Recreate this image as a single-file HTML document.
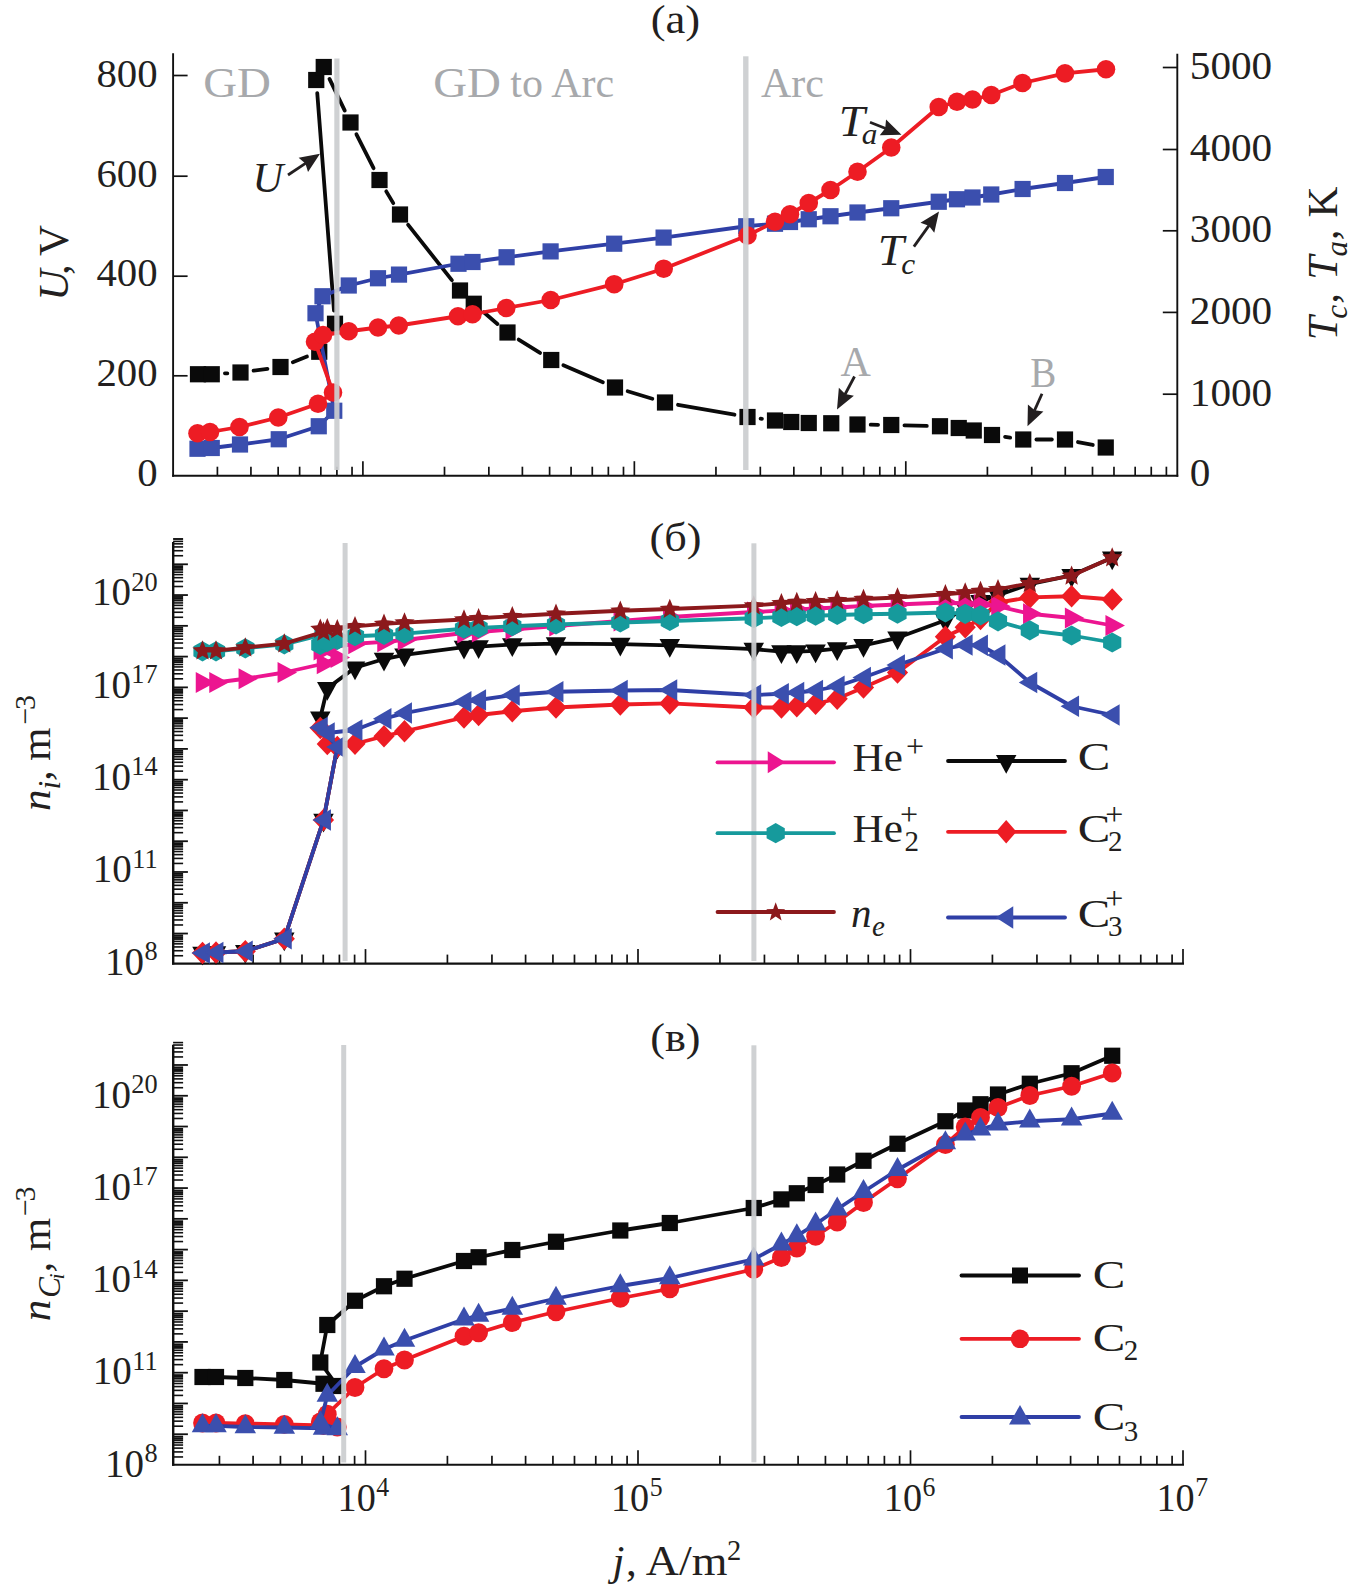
<!DOCTYPE html>
<html lang="ru"><head><meta charset="utf-8"><title>U, T, n vs j</title>
<style>html,body{margin:0;padding:0;background:#fff}svg{display:block}text{font-family:"Liberation Serif",serif}</style>
</head><body>
<svg width="1359" height="1588" viewBox="0 0 1359 1588">
<rect width="1359" height="1588" fill="#fff"/>
<g id="panel-a">
<line x1="173.1" y1="53.2" x2="173.1" y2="476.7" stroke="#111111" stroke-width="1.9"/>
<line x1="1177.3" y1="53.7" x2="1177.3" y2="476.7" stroke="#111111" stroke-width="1.9"/>
<line x1="172.15" y1="475.7" x2="1178.25" y2="475.7" stroke="#111111" stroke-width="1.9"/>
<line x1="173.1" y1="75.5" x2="187.6" y2="75.5" stroke="#111111" stroke-width="1.7"/>
<line x1="173.1" y1="176.2" x2="187.6" y2="176.2" stroke="#111111" stroke-width="1.7"/>
<line x1="173.1" y1="276.2" x2="187.6" y2="276.2" stroke="#111111" stroke-width="1.7"/>
<line x1="173.1" y1="375.8" x2="187.6" y2="375.8" stroke="#111111" stroke-width="1.7"/>
<line x1="1177.3" y1="67.5" x2="1162.8" y2="67.5" stroke="#111111" stroke-width="1.7"/>
<line x1="1177.3" y1="149.5" x2="1162.8" y2="149.5" stroke="#111111" stroke-width="1.7"/>
<line x1="1177.3" y1="230.8" x2="1162.8" y2="230.8" stroke="#111111" stroke-width="1.7"/>
<line x1="1177.3" y1="312.4" x2="1162.8" y2="312.4" stroke="#111111" stroke-width="1.7"/>
<line x1="1177.3" y1="394.2" x2="1162.8" y2="394.2" stroke="#111111" stroke-width="1.7"/>
<line x1="217.4" y1="475.7" x2="217.4" y2="466.7" stroke="#111111" stroke-width="1.7"/>
<line x1="250.93" y1="475.7" x2="250.93" y2="466.7" stroke="#111111" stroke-width="1.7"/>
<line x1="278.15" y1="475.7" x2="278.15" y2="466.7" stroke="#111111" stroke-width="1.7"/>
<line x1="299.63" y1="475.7" x2="299.63" y2="466.7" stroke="#111111" stroke-width="1.7"/>
<line x1="320.83" y1="475.7" x2="320.83" y2="466.7" stroke="#111111" stroke-width="1.7"/>
<line x1="336.9" y1="475.7" x2="336.9" y2="466.7" stroke="#111111" stroke-width="1.7"/>
<line x1="352.04" y1="475.7" x2="352.04" y2="466.7" stroke="#111111" stroke-width="1.7"/>
<line x1="362.9" y1="475.7" x2="362.9" y2="461.2" stroke="#111111" stroke-width="1.7"/>
<line x1="444.5" y1="475.7" x2="444.5" y2="466.7" stroke="#111111" stroke-width="1.7"/>
<line x1="488.85" y1="475.7" x2="488.85" y2="466.7" stroke="#111111" stroke-width="1.7"/>
<line x1="522.38" y1="475.7" x2="522.38" y2="466.7" stroke="#111111" stroke-width="1.7"/>
<line x1="549.6" y1="475.7" x2="549.6" y2="466.7" stroke="#111111" stroke-width="1.7"/>
<line x1="571.08" y1="475.7" x2="571.08" y2="466.7" stroke="#111111" stroke-width="1.7"/>
<line x1="592.28" y1="475.7" x2="592.28" y2="466.7" stroke="#111111" stroke-width="1.7"/>
<line x1="608.35" y1="475.7" x2="608.35" y2="466.7" stroke="#111111" stroke-width="1.7"/>
<line x1="623.49" y1="475.7" x2="623.49" y2="466.7" stroke="#111111" stroke-width="1.7"/>
<line x1="634.35" y1="475.7" x2="634.35" y2="461.2" stroke="#111111" stroke-width="1.7"/>
<line x1="715.95" y1="475.7" x2="715.95" y2="466.7" stroke="#111111" stroke-width="1.7"/>
<line x1="760.3" y1="475.7" x2="760.3" y2="466.7" stroke="#111111" stroke-width="1.7"/>
<line x1="793.83" y1="475.7" x2="793.83" y2="466.7" stroke="#111111" stroke-width="1.7"/>
<line x1="821.05" y1="475.7" x2="821.05" y2="466.7" stroke="#111111" stroke-width="1.7"/>
<line x1="842.53" y1="475.7" x2="842.53" y2="466.7" stroke="#111111" stroke-width="1.7"/>
<line x1="863.73" y1="475.7" x2="863.73" y2="466.7" stroke="#111111" stroke-width="1.7"/>
<line x1="879.8" y1="475.7" x2="879.8" y2="466.7" stroke="#111111" stroke-width="1.7"/>
<line x1="894.94" y1="475.7" x2="894.94" y2="466.7" stroke="#111111" stroke-width="1.7"/>
<line x1="905.8" y1="475.7" x2="905.8" y2="461.2" stroke="#111111" stroke-width="1.7"/>
<line x1="987.4" y1="475.7" x2="987.4" y2="466.7" stroke="#111111" stroke-width="1.7"/>
<line x1="1031.75" y1="475.7" x2="1031.75" y2="466.7" stroke="#111111" stroke-width="1.7"/>
<line x1="1065.28" y1="475.7" x2="1065.28" y2="466.7" stroke="#111111" stroke-width="1.7"/>
<line x1="1092.5" y1="475.7" x2="1092.5" y2="466.7" stroke="#111111" stroke-width="1.7"/>
<line x1="1113.98" y1="475.7" x2="1113.98" y2="466.7" stroke="#111111" stroke-width="1.7"/>
<line x1="1135.18" y1="475.7" x2="1135.18" y2="466.7" stroke="#111111" stroke-width="1.7"/>
<line x1="1151.25" y1="475.7" x2="1151.25" y2="466.7" stroke="#111111" stroke-width="1.7"/>
<line x1="1166.39" y1="475.7" x2="1166.39" y2="466.7" stroke="#111111" stroke-width="1.7"/>
<text transform="translate(157.6,86.6) scale(1.020,1)" font-size="40" text-anchor="end" fill="#231f20">800</text>
<text transform="translate(157.6,186.6) scale(1.020,1)" font-size="40" text-anchor="end" fill="#231f20">600</text>
<text transform="translate(157.6,286.3) scale(1.020,1)" font-size="40" text-anchor="end" fill="#231f20">400</text>
<text transform="translate(157.6,386.1) scale(1.020,1)" font-size="40" text-anchor="end" fill="#231f20">200</text>
<text transform="translate(157.6,486.1) scale(1.020,1)" font-size="40" text-anchor="end" fill="#231f20">0</text>
<text transform="translate(1189.8,78.8) scale(1.030,1)" font-size="40" text-anchor="start" fill="#231f20">5000</text>
<text transform="translate(1189.8,160.6) scale(1.030,1)" font-size="40" text-anchor="start" fill="#231f20">4000</text>
<text transform="translate(1189.8,242.2) scale(1.030,1)" font-size="40" text-anchor="start" fill="#231f20">3000</text>
<text transform="translate(1189.8,323.5) scale(1.030,1)" font-size="40" text-anchor="start" fill="#231f20">2000</text>
<text transform="translate(1189.8,405.6) scale(1.030,1)" font-size="40" text-anchor="start" fill="#231f20">1000</text>
<text transform="translate(1189.8,486.4) scale(1.030,1)" font-size="40" text-anchor="start" fill="#231f20">0</text>
<line x1="224.93" y1="373.45" x2="227.32" y2="373.3" stroke="#0a0a0a" stroke-width="3.8" stroke-linecap="round"/>
<line x1="253.58" y1="370.7" x2="267.42" y2="368.8" stroke="#0a0a0a" stroke-width="3.8" stroke-linecap="round"/>
<line x1="292.78" y1="362.17" x2="306.97" y2="356.58" stroke="#0a0a0a" stroke-width="3.8" stroke-linecap="round"/>
<line x1="325.72" y1="340.25" x2="328.53" y2="335.25" stroke="#0a0a0a" stroke-width="3.8" stroke-linecap="round"/>
<line x1="333.99" y1="310.59" x2="317.26" y2="93.16" stroke="#0a0a0a" stroke-width="3.8" stroke-linecap="round"/>
<line x1="329.48" y1="78.89" x2="344.77" y2="110.61" stroke="#0a0a0a" stroke-width="3.8" stroke-linecap="round"/>
<line x1="356.44" y1="134.29" x2="373.56" y2="168.21" stroke="#0a0a0a" stroke-width="3.8" stroke-linecap="round"/>
<line x1="386.24" y1="191.35" x2="393.26" y2="203.15" stroke="#0a0a0a" stroke-width="3.8" stroke-linecap="round"/>
<line x1="408.18" y1="224.86" x2="451.82" y2="280.14" stroke="#0a0a0a" stroke-width="3.8" stroke-linecap="round"/>
<line x1="483.8" y1="312.31" x2="497.45" y2="323.94" stroke="#0a0a0a" stroke-width="3.8" stroke-linecap="round"/>
<line x1="518.68" y1="339.52" x2="540.07" y2="352.98" stroke="#0a0a0a" stroke-width="3.8" stroke-linecap="round"/>
<line x1="563.37" y1="365.23" x2="602.88" y2="382.27" stroke="#0a0a0a" stroke-width="3.8" stroke-linecap="round"/>
<line x1="627.64" y1="391.29" x2="652.36" y2="398.71" stroke="#0a0a0a" stroke-width="3.8" stroke-linecap="round"/>
<line x1="678" y1="404.78" x2="734.5" y2="414.72" stroke="#0a0a0a" stroke-width="3.8" stroke-linecap="round"/>
<line x1="760.59" y1="418.67" x2="761.91" y2="418.83" stroke="#0a0a0a" stroke-width="3.8" stroke-linecap="round"/>
<line x1="870.7" y1="424.7" x2="878.05" y2="424.8" stroke="#0a0a0a" stroke-width="3.8" stroke-linecap="round"/>
<line x1="904.45" y1="425.34" x2="926.8" y2="425.91" stroke="#0a0a0a" stroke-width="3.8" stroke-linecap="round"/>
<line x1="1005.07" y1="436.88" x2="1010.18" y2="437.62" stroke="#0a0a0a" stroke-width="3.8" stroke-linecap="round"/>
<line x1="1036.45" y1="439.5" x2="1051.8" y2="439.5" stroke="#0a0a0a" stroke-width="3.8" stroke-linecap="round"/>
<line x1="1077.95" y1="442.04" x2="1092.8" y2="444.96" stroke="#0a0a0a" stroke-width="3.8" stroke-linecap="round"/>
<rect x="189.9" y="366.15" width="16.2" height="16.2" fill="#0a0a0a"/>
<rect x="203.65" y="366.15" width="16.2" height="16.2" fill="#0a0a0a"/>
<rect x="232.4" y="364.4" width="16.2" height="16.2" fill="#0a0a0a"/>
<rect x="272.4" y="358.9" width="16.2" height="16.2" fill="#0a0a0a"/>
<rect x="311.15" y="343.65" width="16.2" height="16.2" fill="#0a0a0a"/>
<rect x="326.9" y="315.65" width="16.2" height="16.2" fill="#0a0a0a"/>
<rect x="308.15" y="71.9" width="16.2" height="16.2" fill="#0a0a0a"/>
<rect x="315.65" y="58.9" width="16.2" height="16.2" fill="#0a0a0a"/>
<rect x="342.4" y="114.4" width="16.2" height="16.2" fill="#0a0a0a"/>
<rect x="371.4" y="171.9" width="16.2" height="16.2" fill="#0a0a0a"/>
<rect x="391.9" y="206.4" width="16.2" height="16.2" fill="#0a0a0a"/>
<rect x="451.9" y="282.4" width="16.2" height="16.2" fill="#0a0a0a"/>
<rect x="465.65" y="295.65" width="16.2" height="16.2" fill="#0a0a0a"/>
<rect x="499.4" y="324.4" width="16.2" height="16.2" fill="#0a0a0a"/>
<rect x="543.15" y="351.9" width="16.2" height="16.2" fill="#0a0a0a"/>
<rect x="606.9" y="379.4" width="16.2" height="16.2" fill="#0a0a0a"/>
<rect x="656.9" y="394.4" width="16.2" height="16.2" fill="#0a0a0a"/>
<rect x="739.4" y="408.9" width="16.2" height="16.2" fill="#0a0a0a"/>
<rect x="766.9" y="412.4" width="16.2" height="16.2" fill="#0a0a0a"/>
<rect x="783.15" y="413.9" width="16.2" height="16.2" fill="#0a0a0a"/>
<rect x="800.65" y="414.9" width="16.2" height="16.2" fill="#0a0a0a"/>
<rect x="823.15" y="415.15" width="16.2" height="16.2" fill="#0a0a0a"/>
<rect x="849.4" y="416.4" width="16.2" height="16.2" fill="#0a0a0a"/>
<rect x="883.15" y="416.9" width="16.2" height="16.2" fill="#0a0a0a"/>
<rect x="931.9" y="418.15" width="16.2" height="16.2" fill="#0a0a0a"/>
<rect x="950.65" y="419.9" width="16.2" height="16.2" fill="#0a0a0a"/>
<rect x="965.65" y="422.4" width="16.2" height="16.2" fill="#0a0a0a"/>
<rect x="983.9" y="426.9" width="16.2" height="16.2" fill="#0a0a0a"/>
<rect x="1015.15" y="431.4" width="16.2" height="16.2" fill="#0a0a0a"/>
<rect x="1056.9" y="431.4" width="16.2" height="16.2" fill="#0a0a0a"/>
<rect x="1097.65" y="439.4" width="16.2" height="16.2" fill="#0a0a0a"/>
<polyline fill="none" stroke="#2f3fa6" stroke-width="3.8" stroke-linejoin="round" stroke-linecap="round" points="197.5,448.75 211.75,448 240,444.5 278.75,439.25 318.75,426.25 334.25,410.75 315.5,313.25 322.5,296.25 348.75,285.5 378,278.25 399,274.6 458.5,263.75 472.5,262 506.6,257.25 550.6,251.4 614.2,243.7 663.6,237.6 746.25,226.25 775,223.75 790,222 808.75,219.25 830.5,216.25 857.5,212.5 891.25,208.25 938.75,201.75 957,199.25 972.5,197.5 991.25,194.5 1022.6,189 1065,183 1105.75,177"/>
<rect x="189.4" y="440.65" width="16.2" height="16.2" fill="#3b4fae"/>
<rect x="203.65" y="439.9" width="16.2" height="16.2" fill="#3b4fae"/>
<rect x="231.9" y="436.4" width="16.2" height="16.2" fill="#3b4fae"/>
<rect x="270.65" y="431.15" width="16.2" height="16.2" fill="#3b4fae"/>
<rect x="310.65" y="418.15" width="16.2" height="16.2" fill="#3b4fae"/>
<rect x="326.15" y="402.65" width="16.2" height="16.2" fill="#3b4fae"/>
<rect x="307.4" y="305.15" width="16.2" height="16.2" fill="#3b4fae"/>
<rect x="314.4" y="288.15" width="16.2" height="16.2" fill="#3b4fae"/>
<rect x="340.65" y="277.4" width="16.2" height="16.2" fill="#3b4fae"/>
<rect x="369.9" y="270.15" width="16.2" height="16.2" fill="#3b4fae"/>
<rect x="390.9" y="266.5" width="16.2" height="16.2" fill="#3b4fae"/>
<rect x="450.4" y="255.65" width="16.2" height="16.2" fill="#3b4fae"/>
<rect x="464.4" y="253.9" width="16.2" height="16.2" fill="#3b4fae"/>
<rect x="498.5" y="249.15" width="16.2" height="16.2" fill="#3b4fae"/>
<rect x="542.5" y="243.3" width="16.2" height="16.2" fill="#3b4fae"/>
<rect x="606.1" y="235.6" width="16.2" height="16.2" fill="#3b4fae"/>
<rect x="655.5" y="229.5" width="16.2" height="16.2" fill="#3b4fae"/>
<rect x="738.15" y="218.15" width="16.2" height="16.2" fill="#3b4fae"/>
<rect x="766.9" y="215.65" width="16.2" height="16.2" fill="#3b4fae"/>
<rect x="781.9" y="213.9" width="16.2" height="16.2" fill="#3b4fae"/>
<rect x="800.65" y="211.15" width="16.2" height="16.2" fill="#3b4fae"/>
<rect x="822.4" y="208.15" width="16.2" height="16.2" fill="#3b4fae"/>
<rect x="849.4" y="204.4" width="16.2" height="16.2" fill="#3b4fae"/>
<rect x="883.15" y="200.15" width="16.2" height="16.2" fill="#3b4fae"/>
<rect x="930.65" y="193.65" width="16.2" height="16.2" fill="#3b4fae"/>
<rect x="948.9" y="191.15" width="16.2" height="16.2" fill="#3b4fae"/>
<rect x="964.4" y="189.4" width="16.2" height="16.2" fill="#3b4fae"/>
<rect x="983.15" y="186.4" width="16.2" height="16.2" fill="#3b4fae"/>
<rect x="1014.5" y="180.9" width="16.2" height="16.2" fill="#3b4fae"/>
<rect x="1056.9" y="174.9" width="16.2" height="16.2" fill="#3b4fae"/>
<rect x="1097.65" y="168.9" width="16.2" height="16.2" fill="#3b4fae"/>
<polyline fill="none" stroke="#ed1c24" stroke-width="3.8" stroke-linejoin="round" stroke-linecap="round" points="197.5,433.25 210,432 239.5,427 278.25,417.5 318,403.75 333,392.5 315,341.75 323,335 348.75,331.25 378,327.5 398.75,325.5 458,316.25 472.5,314.25 506.25,308 550.75,300 614.2,284.2 663.7,268.7 747.5,235.5 775,221.75 790,214.25 808.75,203 830.5,190 857.5,171.75 891.25,147.5 938.75,107 957,101.75 972.5,99.5 991.25,95 1022.5,83 1065,73.4 1106,69.25"/>
<circle cx="197.5" cy="433.25" r="9.3" fill="#ed1c24"/>
<circle cx="210" cy="432" r="9.3" fill="#ed1c24"/>
<circle cx="239.5" cy="427" r="9.3" fill="#ed1c24"/>
<circle cx="278.25" cy="417.5" r="9.3" fill="#ed1c24"/>
<circle cx="318" cy="403.75" r="9.3" fill="#ed1c24"/>
<circle cx="333" cy="392.5" r="9.3" fill="#ed1c24"/>
<circle cx="315" cy="341.75" r="9.3" fill="#ed1c24"/>
<circle cx="323" cy="335" r="9.3" fill="#ed1c24"/>
<circle cx="348.75" cy="331.25" r="9.3" fill="#ed1c24"/>
<circle cx="378" cy="327.5" r="9.3" fill="#ed1c24"/>
<circle cx="398.75" cy="325.5" r="9.3" fill="#ed1c24"/>
<circle cx="458" cy="316.25" r="9.3" fill="#ed1c24"/>
<circle cx="472.5" cy="314.25" r="9.3" fill="#ed1c24"/>
<circle cx="506.25" cy="308" r="9.3" fill="#ed1c24"/>
<circle cx="550.75" cy="300" r="9.3" fill="#ed1c24"/>
<circle cx="614.2" cy="284.2" r="9.3" fill="#ed1c24"/>
<circle cx="663.7" cy="268.7" r="9.3" fill="#ed1c24"/>
<circle cx="747.5" cy="235.5" r="9.3" fill="#ed1c24"/>
<circle cx="775" cy="221.75" r="9.3" fill="#ed1c24"/>
<circle cx="790" cy="214.25" r="9.3" fill="#ed1c24"/>
<circle cx="808.75" cy="203" r="9.3" fill="#ed1c24"/>
<circle cx="830.5" cy="190" r="9.3" fill="#ed1c24"/>
<circle cx="857.5" cy="171.75" r="9.3" fill="#ed1c24"/>
<circle cx="891.25" cy="147.5" r="9.3" fill="#ed1c24"/>
<circle cx="938.75" cy="107" r="9.3" fill="#ed1c24"/>
<circle cx="957" cy="101.75" r="9.3" fill="#ed1c24"/>
<circle cx="972.5" cy="99.5" r="9.3" fill="#ed1c24"/>
<circle cx="991.25" cy="95" r="9.3" fill="#ed1c24"/>
<circle cx="1022.5" cy="83" r="9.3" fill="#ed1c24"/>
<circle cx="1065" cy="73.4" r="9.3" fill="#ed1c24"/>
<circle cx="1106" cy="69.25" r="9.3" fill="#ed1c24"/>
<rect x="334.3" y="58.5" width="5.2" height="411.5" fill="#cbced0" opacity="0.93"/>
<rect x="743.1" y="56.3" width="5.4" height="413.7" fill="#cbced0" opacity="0.93"/>
<text transform="translate(203.2,96.6) scale(1.118,1)" font-size="42" text-anchor="start" fill="#a7a9ac">GD</text>
<text transform="translate(433.2,96.6) scale(1.118,1)" font-size="42" text-anchor="start" fill="#a7a9ac">GD</text>
<text x="510.3" y="96.6" font-size="42" text-anchor="start" fill="#a7a9ac">to Arc</text>
<text x="761" y="96.6" font-size="42" text-anchor="start" fill="#a7a9ac">Arc</text>
<text x="840.5" y="376.4" font-size="42" text-anchor="start" fill="#a7a9ac">A</text>
<text transform="translate(1030.3,387) scale(0.940,1)" font-size="41.5" text-anchor="start" fill="#a7a9ac">B</text>
<line x1="854.5" y1="376.5" x2="844.96" y2="394.48" stroke="#231f20" stroke-width="2.8"/>
<polygon fill="#231f20" points="837,409.5 838.86,387.85 845.2,394.04 853.88,395.81"/>
<line x1="1042" y1="393.8" x2="1034.44" y2="410.68" stroke="#231f20" stroke-width="2.8"/>
<polygon fill="#231f20" points="1027.5,426.2 1027.91,404.47 1034.65,410.23 1043.43,411.42"/>
<text x="252.5" y="191.6" font-size="42.5" text-anchor="start" fill="#231f20" font-style="italic">U</text>
<line x1="288" y1="175" x2="305.83" y2="163.19" stroke="#231f20" stroke-width="2.8"/>
<polygon fill="#231f20" points="320,153.8 308.02,171.93 305.41,163.47 298.63,157.76"/>
<text transform="translate(838.8,135.9) scale(1.08,1)" font-size="43.5" font-style="italic" fill="#231f20">T<tspan font-size="29" dx="-3" dy="8.3">a</tspan></text>
<line x1="870" y1="122.3" x2="885.7" y2="128.53" stroke="#231f20" stroke-width="2.8"/>
<polygon fill="#231f20" points="901.5,134.8 879.77,135.32 885.23,128.35 886.05,119.52"/>
<text transform="translate(877.8,264.5) scale(1.08,1)" font-size="43.5" font-style="italic" fill="#231f20">T<tspan font-size="29" dx="-2.5" dy="9.3">c</tspan></text>
<line x1="913.9" y1="246.6" x2="929.11" y2="225.33" stroke="#231f20" stroke-width="2.8"/>
<polygon fill="#231f20" points="939,211.5 934.28,232.71 928.82,225.73 920.45,222.82"/>
<text transform="translate(675.4,33.3) scale(1.130,1)" font-size="39.5" text-anchor="middle" fill="#231f20">(a)</text>
<text transform="translate(67.5,297.5) rotate(-90)" font-size="43" fill="#231f20"><tspan x="-3.3" y="0" font-style="italic">U</tspan><tspan x="22.6" y="0">,</tspan><tspan x="41.6" y="0">V</tspan></text>
<text transform="translate(1337.2,337.8) rotate(-90)" font-size="43" fill="#231f20"><tspan x="-2.5" y="0" font-style="italic">T</tspan><tspan x="19" y="9.7" font-size="31" font-style="italic">c</tspan><tspan x="34" y="0" font-style="italic">,</tspan><tspan x="58" y="0" font-style="italic">T</tspan><tspan x="81.3" y="9.7" font-size="31" font-style="italic">a</tspan><tspan x="97.5" y="0" font-style="italic">,</tspan><tspan x="120.3" y="0">K</tspan></text>
</g>
<g id="panel-b">
<line x1="173.2" y1="541.99" x2="173.2" y2="964.6" stroke="#111111" stroke-width="2.4"/>
<line x1="172" y1="963.6" x2="1184" y2="963.6" stroke="#111111" stroke-width="2.1"/>
<line x1="173.1" y1="955.75" x2="183.1" y2="955.75" stroke="#111111" stroke-width="1.6"/>
<line x1="173.1" y1="950.72" x2="183.1" y2="950.72" stroke="#111111" stroke-width="1.6"/>
<line x1="173.1" y1="946.92" x2="183.1" y2="946.92" stroke="#111111" stroke-width="1.6"/>
<line x1="173.1" y1="943.84" x2="183.1" y2="943.84" stroke="#111111" stroke-width="1.6"/>
<line x1="173.1" y1="941.4" x2="183.1" y2="941.4" stroke="#111111" stroke-width="1.6"/>
<line x1="173.1" y1="939" x2="183.1" y2="939" stroke="#111111" stroke-width="1.9"/>
<line x1="173.1" y1="937.18" x2="183.1" y2="937.18" stroke="#111111" stroke-width="1.9"/>
<line x1="173.1" y1="935.46" x2="183.1" y2="935.46" stroke="#111111" stroke-width="1.9"/>
<line x1="173.1" y1="933.53" x2="187.9" y2="933.53" stroke="#111111" stroke-width="1.8"/>
<line x1="173.1" y1="924.98" x2="183.1" y2="924.98" stroke="#111111" stroke-width="1.6"/>
<line x1="173.1" y1="919.95" x2="183.1" y2="919.95" stroke="#111111" stroke-width="1.6"/>
<line x1="173.1" y1="916.15" x2="183.1" y2="916.15" stroke="#111111" stroke-width="1.6"/>
<line x1="173.1" y1="913.07" x2="183.1" y2="913.07" stroke="#111111" stroke-width="1.6"/>
<line x1="173.1" y1="910.63" x2="183.1" y2="910.63" stroke="#111111" stroke-width="1.6"/>
<line x1="173.1" y1="908.23" x2="183.1" y2="908.23" stroke="#111111" stroke-width="1.9"/>
<line x1="173.1" y1="906.41" x2="183.1" y2="906.41" stroke="#111111" stroke-width="1.9"/>
<line x1="173.1" y1="904.69" x2="183.1" y2="904.69" stroke="#111111" stroke-width="1.9"/>
<line x1="173.1" y1="902.76" x2="187.9" y2="902.76" stroke="#111111" stroke-width="1.8"/>
<line x1="173.1" y1="894.21" x2="183.1" y2="894.21" stroke="#111111" stroke-width="1.6"/>
<line x1="173.1" y1="889.18" x2="183.1" y2="889.18" stroke="#111111" stroke-width="1.6"/>
<line x1="173.1" y1="885.38" x2="183.1" y2="885.38" stroke="#111111" stroke-width="1.6"/>
<line x1="173.1" y1="882.3" x2="183.1" y2="882.3" stroke="#111111" stroke-width="1.6"/>
<line x1="173.1" y1="879.86" x2="183.1" y2="879.86" stroke="#111111" stroke-width="1.6"/>
<line x1="173.1" y1="877.46" x2="183.1" y2="877.46" stroke="#111111" stroke-width="1.9"/>
<line x1="173.1" y1="875.64" x2="183.1" y2="875.64" stroke="#111111" stroke-width="1.9"/>
<line x1="173.1" y1="873.92" x2="183.1" y2="873.92" stroke="#111111" stroke-width="1.9"/>
<line x1="173.1" y1="871.99" x2="187.9" y2="871.99" stroke="#111111" stroke-width="1.8"/>
<line x1="173.1" y1="863.44" x2="183.1" y2="863.44" stroke="#111111" stroke-width="1.6"/>
<line x1="173.1" y1="858.41" x2="183.1" y2="858.41" stroke="#111111" stroke-width="1.6"/>
<line x1="173.1" y1="854.61" x2="183.1" y2="854.61" stroke="#111111" stroke-width="1.6"/>
<line x1="173.1" y1="851.53" x2="183.1" y2="851.53" stroke="#111111" stroke-width="1.6"/>
<line x1="173.1" y1="849.09" x2="183.1" y2="849.09" stroke="#111111" stroke-width="1.6"/>
<line x1="173.1" y1="846.69" x2="183.1" y2="846.69" stroke="#111111" stroke-width="1.9"/>
<line x1="173.1" y1="844.87" x2="183.1" y2="844.87" stroke="#111111" stroke-width="1.9"/>
<line x1="173.1" y1="843.15" x2="183.1" y2="843.15" stroke="#111111" stroke-width="1.9"/>
<line x1="173.1" y1="841.22" x2="187.9" y2="841.22" stroke="#111111" stroke-width="1.8"/>
<line x1="173.1" y1="832.67" x2="183.1" y2="832.67" stroke="#111111" stroke-width="1.6"/>
<line x1="173.1" y1="827.64" x2="183.1" y2="827.64" stroke="#111111" stroke-width="1.6"/>
<line x1="173.1" y1="823.84" x2="183.1" y2="823.84" stroke="#111111" stroke-width="1.6"/>
<line x1="173.1" y1="820.76" x2="183.1" y2="820.76" stroke="#111111" stroke-width="1.6"/>
<line x1="173.1" y1="818.32" x2="183.1" y2="818.32" stroke="#111111" stroke-width="1.6"/>
<line x1="173.1" y1="815.92" x2="183.1" y2="815.92" stroke="#111111" stroke-width="1.9"/>
<line x1="173.1" y1="814.1" x2="183.1" y2="814.1" stroke="#111111" stroke-width="1.9"/>
<line x1="173.1" y1="812.38" x2="183.1" y2="812.38" stroke="#111111" stroke-width="1.9"/>
<line x1="173.1" y1="810.45" x2="187.9" y2="810.45" stroke="#111111" stroke-width="1.8"/>
<line x1="173.1" y1="801.9" x2="183.1" y2="801.9" stroke="#111111" stroke-width="1.6"/>
<line x1="173.1" y1="796.87" x2="183.1" y2="796.87" stroke="#111111" stroke-width="1.6"/>
<line x1="173.1" y1="793.07" x2="183.1" y2="793.07" stroke="#111111" stroke-width="1.6"/>
<line x1="173.1" y1="789.99" x2="183.1" y2="789.99" stroke="#111111" stroke-width="1.6"/>
<line x1="173.1" y1="787.55" x2="183.1" y2="787.55" stroke="#111111" stroke-width="1.6"/>
<line x1="173.1" y1="785.15" x2="183.1" y2="785.15" stroke="#111111" stroke-width="1.9"/>
<line x1="173.1" y1="783.33" x2="183.1" y2="783.33" stroke="#111111" stroke-width="1.9"/>
<line x1="173.1" y1="781.61" x2="183.1" y2="781.61" stroke="#111111" stroke-width="1.9"/>
<line x1="173.1" y1="779.68" x2="187.9" y2="779.68" stroke="#111111" stroke-width="1.8"/>
<line x1="173.1" y1="771.13" x2="183.1" y2="771.13" stroke="#111111" stroke-width="1.6"/>
<line x1="173.1" y1="766.1" x2="183.1" y2="766.1" stroke="#111111" stroke-width="1.6"/>
<line x1="173.1" y1="762.3" x2="183.1" y2="762.3" stroke="#111111" stroke-width="1.6"/>
<line x1="173.1" y1="759.22" x2="183.1" y2="759.22" stroke="#111111" stroke-width="1.6"/>
<line x1="173.1" y1="756.78" x2="183.1" y2="756.78" stroke="#111111" stroke-width="1.6"/>
<line x1="173.1" y1="754.38" x2="183.1" y2="754.38" stroke="#111111" stroke-width="1.9"/>
<line x1="173.1" y1="752.56" x2="183.1" y2="752.56" stroke="#111111" stroke-width="1.9"/>
<line x1="173.1" y1="750.84" x2="183.1" y2="750.84" stroke="#111111" stroke-width="1.9"/>
<line x1="173.1" y1="748.91" x2="187.9" y2="748.91" stroke="#111111" stroke-width="1.8"/>
<line x1="173.1" y1="740.36" x2="183.1" y2="740.36" stroke="#111111" stroke-width="1.6"/>
<line x1="173.1" y1="735.33" x2="183.1" y2="735.33" stroke="#111111" stroke-width="1.6"/>
<line x1="173.1" y1="731.53" x2="183.1" y2="731.53" stroke="#111111" stroke-width="1.6"/>
<line x1="173.1" y1="728.45" x2="183.1" y2="728.45" stroke="#111111" stroke-width="1.6"/>
<line x1="173.1" y1="726.01" x2="183.1" y2="726.01" stroke="#111111" stroke-width="1.6"/>
<line x1="173.1" y1="723.61" x2="183.1" y2="723.61" stroke="#111111" stroke-width="1.9"/>
<line x1="173.1" y1="721.79" x2="183.1" y2="721.79" stroke="#111111" stroke-width="1.9"/>
<line x1="173.1" y1="720.07" x2="183.1" y2="720.07" stroke="#111111" stroke-width="1.9"/>
<line x1="173.1" y1="718.14" x2="187.9" y2="718.14" stroke="#111111" stroke-width="1.8"/>
<line x1="173.1" y1="709.59" x2="183.1" y2="709.59" stroke="#111111" stroke-width="1.6"/>
<line x1="173.1" y1="704.56" x2="183.1" y2="704.56" stroke="#111111" stroke-width="1.6"/>
<line x1="173.1" y1="700.76" x2="183.1" y2="700.76" stroke="#111111" stroke-width="1.6"/>
<line x1="173.1" y1="697.68" x2="183.1" y2="697.68" stroke="#111111" stroke-width="1.6"/>
<line x1="173.1" y1="695.24" x2="183.1" y2="695.24" stroke="#111111" stroke-width="1.6"/>
<line x1="173.1" y1="692.84" x2="183.1" y2="692.84" stroke="#111111" stroke-width="1.9"/>
<line x1="173.1" y1="691.02" x2="183.1" y2="691.02" stroke="#111111" stroke-width="1.9"/>
<line x1="173.1" y1="689.3" x2="183.1" y2="689.3" stroke="#111111" stroke-width="1.9"/>
<line x1="173.1" y1="687.37" x2="187.9" y2="687.37" stroke="#111111" stroke-width="1.8"/>
<line x1="173.1" y1="678.82" x2="183.1" y2="678.82" stroke="#111111" stroke-width="1.6"/>
<line x1="173.1" y1="673.79" x2="183.1" y2="673.79" stroke="#111111" stroke-width="1.6"/>
<line x1="173.1" y1="669.99" x2="183.1" y2="669.99" stroke="#111111" stroke-width="1.6"/>
<line x1="173.1" y1="666.91" x2="183.1" y2="666.91" stroke="#111111" stroke-width="1.6"/>
<line x1="173.1" y1="664.47" x2="183.1" y2="664.47" stroke="#111111" stroke-width="1.6"/>
<line x1="173.1" y1="662.07" x2="183.1" y2="662.07" stroke="#111111" stroke-width="1.9"/>
<line x1="173.1" y1="660.25" x2="183.1" y2="660.25" stroke="#111111" stroke-width="1.9"/>
<line x1="173.1" y1="658.53" x2="183.1" y2="658.53" stroke="#111111" stroke-width="1.9"/>
<line x1="173.1" y1="656.6" x2="187.9" y2="656.6" stroke="#111111" stroke-width="1.8"/>
<line x1="173.1" y1="648.05" x2="183.1" y2="648.05" stroke="#111111" stroke-width="1.6"/>
<line x1="173.1" y1="643.02" x2="183.1" y2="643.02" stroke="#111111" stroke-width="1.6"/>
<line x1="173.1" y1="639.22" x2="183.1" y2="639.22" stroke="#111111" stroke-width="1.6"/>
<line x1="173.1" y1="636.14" x2="183.1" y2="636.14" stroke="#111111" stroke-width="1.6"/>
<line x1="173.1" y1="633.7" x2="183.1" y2="633.7" stroke="#111111" stroke-width="1.6"/>
<line x1="173.1" y1="631.3" x2="183.1" y2="631.3" stroke="#111111" stroke-width="1.9"/>
<line x1="173.1" y1="629.48" x2="183.1" y2="629.48" stroke="#111111" stroke-width="1.9"/>
<line x1="173.1" y1="627.76" x2="183.1" y2="627.76" stroke="#111111" stroke-width="1.9"/>
<line x1="173.1" y1="625.83" x2="187.9" y2="625.83" stroke="#111111" stroke-width="1.8"/>
<line x1="173.1" y1="617.28" x2="183.1" y2="617.28" stroke="#111111" stroke-width="1.6"/>
<line x1="173.1" y1="612.25" x2="183.1" y2="612.25" stroke="#111111" stroke-width="1.6"/>
<line x1="173.1" y1="608.45" x2="183.1" y2="608.45" stroke="#111111" stroke-width="1.6"/>
<line x1="173.1" y1="605.37" x2="183.1" y2="605.37" stroke="#111111" stroke-width="1.6"/>
<line x1="173.1" y1="602.93" x2="183.1" y2="602.93" stroke="#111111" stroke-width="1.6"/>
<line x1="173.1" y1="600.53" x2="183.1" y2="600.53" stroke="#111111" stroke-width="1.9"/>
<line x1="173.1" y1="598.71" x2="183.1" y2="598.71" stroke="#111111" stroke-width="1.9"/>
<line x1="173.1" y1="596.99" x2="183.1" y2="596.99" stroke="#111111" stroke-width="1.9"/>
<line x1="173.1" y1="595.06" x2="187.9" y2="595.06" stroke="#111111" stroke-width="1.8"/>
<line x1="173.1" y1="586.51" x2="183.1" y2="586.51" stroke="#111111" stroke-width="1.6"/>
<line x1="173.1" y1="581.48" x2="183.1" y2="581.48" stroke="#111111" stroke-width="1.6"/>
<line x1="173.1" y1="577.68" x2="183.1" y2="577.68" stroke="#111111" stroke-width="1.6"/>
<line x1="173.1" y1="574.6" x2="183.1" y2="574.6" stroke="#111111" stroke-width="1.6"/>
<line x1="173.1" y1="572.16" x2="183.1" y2="572.16" stroke="#111111" stroke-width="1.6"/>
<line x1="173.1" y1="569.76" x2="183.1" y2="569.76" stroke="#111111" stroke-width="1.9"/>
<line x1="173.1" y1="567.94" x2="183.1" y2="567.94" stroke="#111111" stroke-width="1.9"/>
<line x1="173.1" y1="566.22" x2="183.1" y2="566.22" stroke="#111111" stroke-width="1.9"/>
<line x1="173.1" y1="564.29" x2="187.9" y2="564.29" stroke="#111111" stroke-width="1.8"/>
<line x1="173.1" y1="555.74" x2="183.1" y2="555.74" stroke="#111111" stroke-width="1.6"/>
<line x1="173.1" y1="550.71" x2="183.1" y2="550.71" stroke="#111111" stroke-width="1.6"/>
<line x1="173.1" y1="546.91" x2="183.1" y2="546.91" stroke="#111111" stroke-width="1.6"/>
<line x1="173.1" y1="543.83" x2="183.1" y2="543.83" stroke="#111111" stroke-width="1.6"/>
<line x1="173.1" y1="541.39" x2="183.1" y2="541.39" stroke="#111111" stroke-width="1.6"/>
<line x1="173.1" y1="538.99" x2="183.1" y2="538.99" stroke="#111111" stroke-width="1.9"/>
<line x1="219.44" y1="963.6" x2="219.44" y2="954.6" stroke="#111111" stroke-width="1.7"/>
<line x1="253.09" y1="963.6" x2="253.09" y2="954.6" stroke="#111111" stroke-width="1.7"/>
<line x1="280.43" y1="963.6" x2="280.43" y2="954.6" stroke="#111111" stroke-width="1.7"/>
<line x1="301.98" y1="963.6" x2="301.98" y2="954.6" stroke="#111111" stroke-width="1.7"/>
<line x1="323.26" y1="963.6" x2="323.26" y2="954.6" stroke="#111111" stroke-width="1.7"/>
<line x1="339.39" y1="963.6" x2="339.39" y2="954.6" stroke="#111111" stroke-width="1.7"/>
<line x1="354.6" y1="963.6" x2="354.6" y2="954.6" stroke="#111111" stroke-width="1.7"/>
<line x1="365.5" y1="963.6" x2="365.5" y2="949.1" stroke="#111111" stroke-width="1.7"/>
<line x1="447.41" y1="963.6" x2="447.41" y2="954.6" stroke="#111111" stroke-width="1.7"/>
<line x1="491.94" y1="963.6" x2="491.94" y2="954.6" stroke="#111111" stroke-width="1.7"/>
<line x1="525.59" y1="963.6" x2="525.59" y2="954.6" stroke="#111111" stroke-width="1.7"/>
<line x1="552.93" y1="963.6" x2="552.93" y2="954.6" stroke="#111111" stroke-width="1.7"/>
<line x1="574.48" y1="963.6" x2="574.48" y2="954.6" stroke="#111111" stroke-width="1.7"/>
<line x1="595.76" y1="963.6" x2="595.76" y2="954.6" stroke="#111111" stroke-width="1.7"/>
<line x1="611.89" y1="963.6" x2="611.89" y2="954.6" stroke="#111111" stroke-width="1.7"/>
<line x1="627.1" y1="963.6" x2="627.1" y2="954.6" stroke="#111111" stroke-width="1.7"/>
<line x1="638" y1="963.6" x2="638" y2="949.1" stroke="#111111" stroke-width="1.7"/>
<line x1="719.91" y1="963.6" x2="719.91" y2="954.6" stroke="#111111" stroke-width="1.7"/>
<line x1="764.44" y1="963.6" x2="764.44" y2="954.6" stroke="#111111" stroke-width="1.7"/>
<line x1="798.09" y1="963.6" x2="798.09" y2="954.6" stroke="#111111" stroke-width="1.7"/>
<line x1="825.43" y1="963.6" x2="825.43" y2="954.6" stroke="#111111" stroke-width="1.7"/>
<line x1="846.98" y1="963.6" x2="846.98" y2="954.6" stroke="#111111" stroke-width="1.7"/>
<line x1="868.26" y1="963.6" x2="868.26" y2="954.6" stroke="#111111" stroke-width="1.7"/>
<line x1="884.39" y1="963.6" x2="884.39" y2="954.6" stroke="#111111" stroke-width="1.7"/>
<line x1="899.6" y1="963.6" x2="899.6" y2="954.6" stroke="#111111" stroke-width="1.7"/>
<line x1="910.5" y1="963.6" x2="910.5" y2="949.1" stroke="#111111" stroke-width="1.7"/>
<line x1="992.41" y1="963.6" x2="992.41" y2="954.6" stroke="#111111" stroke-width="1.7"/>
<line x1="1036.94" y1="963.6" x2="1036.94" y2="954.6" stroke="#111111" stroke-width="1.7"/>
<line x1="1070.59" y1="963.6" x2="1070.59" y2="954.6" stroke="#111111" stroke-width="1.7"/>
<line x1="1097.93" y1="963.6" x2="1097.93" y2="954.6" stroke="#111111" stroke-width="1.7"/>
<line x1="1119.48" y1="963.6" x2="1119.48" y2="954.6" stroke="#111111" stroke-width="1.7"/>
<line x1="1140.76" y1="963.6" x2="1140.76" y2="954.6" stroke="#111111" stroke-width="1.7"/>
<line x1="1156.89" y1="963.6" x2="1156.89" y2="954.6" stroke="#111111" stroke-width="1.7"/>
<line x1="1172.1" y1="963.6" x2="1172.1" y2="954.6" stroke="#111111" stroke-width="1.7"/>
<line x1="1183" y1="963.6" x2="1183" y2="949.1" stroke="#111111" stroke-width="1.7"/>
<text transform="translate(157.6,605.36) scale(0.975,1)" font-size="40" text-anchor="end" fill="#231f20">10<tspan font-size="27" dy="-14.6" dx="0.4">20</tspan></text>
<text transform="translate(157.6,697.67) scale(0.975,1)" font-size="40" text-anchor="end" fill="#231f20">10<tspan font-size="27" dy="-14.6" dx="0.4">17</tspan></text>
<text transform="translate(157.6,789.98) scale(0.975,1)" font-size="40" text-anchor="end" fill="#231f20">10<tspan font-size="27" dy="-14.6" dx="0.4">14</tspan></text>
<text transform="translate(157.6,882.29) scale(0.975,1)" font-size="40" text-anchor="end" fill="#231f20">10<tspan font-size="27" dy="-14.6" dx="0.4">11</tspan></text>
<text transform="translate(157.6,974.6) scale(0.975,1)" font-size="40" text-anchor="end" fill="#231f20">10<tspan font-size="27" dy="-14.6" dx="0.4">8</tspan></text>
<polyline fill="none" stroke="#0a0a0a" stroke-width="3.8" stroke-linejoin="round" stroke-linecap="round" points="202.5,953 216,952.5 245.3,951.25 284.3,938.75 323.5,820 337.3,747 320.3,717.8 327.3,688.3 355,667.8 384,659.05 404.5,654.8 464,647.05 478.6,646.55 512.3,644.55 556,643.55 620.3,644.05 669.8,645.3 753.75,649.05 781.4,651.55 796.8,651.55 815.6,650.8 837.2,648.55 863.5,645.3 897.5,637.8 945.4,620.3 965.2,607.8 980.5,601.3 998,595.3 1029.8,584.05 1071.6,575.3 1112.2,557.8"/>
<polygon fill="#0a0a0a" points="192.25,946.73 212.75,946.73 202.5,965.53"/>
<polygon fill="#0a0a0a" points="205.75,946.23 226.25,946.23 216,965.03"/>
<polygon fill="#0a0a0a" points="235.05,944.98 255.55,944.98 245.3,963.78"/>
<polygon fill="#0a0a0a" points="274.05,932.48 294.55,932.48 284.3,951.28"/>
<polygon fill="#0a0a0a" points="313.25,813.73 333.75,813.73 323.5,832.53"/>
<polygon fill="#0a0a0a" points="327.05,740.73 347.55,740.73 337.3,759.53"/>
<polygon fill="#0a0a0a" points="310.05,711.53 330.55,711.53 320.3,730.33"/>
<polygon fill="#0a0a0a" points="317.05,682.03 337.55,682.03 327.3,700.83"/>
<polygon fill="#0a0a0a" points="344.75,661.53 365.25,661.53 355,680.33"/>
<polygon fill="#0a0a0a" points="373.75,652.78 394.25,652.78 384,671.58"/>
<polygon fill="#0a0a0a" points="394.25,648.53 414.75,648.53 404.5,667.33"/>
<polygon fill="#0a0a0a" points="453.75,640.78 474.25,640.78 464,659.58"/>
<polygon fill="#0a0a0a" points="468.35,640.28 488.85,640.28 478.6,659.08"/>
<polygon fill="#0a0a0a" points="502.05,638.28 522.55,638.28 512.3,657.08"/>
<polygon fill="#0a0a0a" points="545.75,637.28 566.25,637.28 556,656.08"/>
<polygon fill="#0a0a0a" points="610.05,637.78 630.55,637.78 620.3,656.58"/>
<polygon fill="#0a0a0a" points="659.55,639.03 680.05,639.03 669.8,657.83"/>
<polygon fill="#0a0a0a" points="743.5,642.78 764,642.78 753.75,661.58"/>
<polygon fill="#0a0a0a" points="771.15,645.28 791.65,645.28 781.4,664.08"/>
<polygon fill="#0a0a0a" points="786.55,645.28 807.05,645.28 796.8,664.08"/>
<polygon fill="#0a0a0a" points="805.35,644.53 825.85,644.53 815.6,663.33"/>
<polygon fill="#0a0a0a" points="826.95,642.28 847.45,642.28 837.2,661.08"/>
<polygon fill="#0a0a0a" points="853.25,639.03 873.75,639.03 863.5,657.83"/>
<polygon fill="#0a0a0a" points="887.25,631.53 907.75,631.53 897.5,650.33"/>
<polygon fill="#0a0a0a" points="935.15,614.03 955.65,614.03 945.4,632.83"/>
<polygon fill="#0a0a0a" points="954.95,601.53 975.45,601.53 965.2,620.33"/>
<polygon fill="#0a0a0a" points="970.25,595.03 990.75,595.03 980.5,613.83"/>
<polygon fill="#0a0a0a" points="987.75,589.03 1008.25,589.03 998,607.83"/>
<polygon fill="#0a0a0a" points="1019.55,577.78 1040.05,577.78 1029.8,596.58"/>
<polygon fill="#0a0a0a" points="1061.35,569.03 1081.85,569.03 1071.6,587.83"/>
<polygon fill="#0a0a0a" points="1101.95,551.53 1122.45,551.53 1112.2,570.33"/>
<polyline fill="none" stroke="#ed1c24" stroke-width="3.8" stroke-linejoin="round" stroke-linecap="round" points="202.5,953 216,952.5 245.3,951.25 284.3,938.75 323.5,820 337.3,747 320.3,728 327.3,744 355,743.75 384,736.25 404.5,731.25 464,717.5 478.6,715 512.3,711.25 556,707.5 620.3,704.5 669.8,703.4 753.75,707.5 781.4,707.5 796.8,706.25 815.6,703.75 837.2,698.75 863.5,687.5 897.5,672.5 945.4,636.8 965.2,627.3 980.5,619 998,602.5 1029.8,597.4 1071.6,596.25 1112.2,599.5"/>
<polygon fill="#ed1c24" points="202.5,941.7 213.1,953 202.5,964.3 191.9,953"/>
<polygon fill="#ed1c24" points="216,941.2 226.6,952.5 216,963.8 205.4,952.5"/>
<polygon fill="#ed1c24" points="245.3,939.95 255.9,951.25 245.3,962.55 234.7,951.25"/>
<polygon fill="#ed1c24" points="284.3,927.45 294.9,938.75 284.3,950.05 273.7,938.75"/>
<polygon fill="#ed1c24" points="323.5,808.7 334.1,820 323.5,831.3 312.9,820"/>
<polygon fill="#ed1c24" points="337.3,735.7 347.9,747 337.3,758.3 326.7,747"/>
<polygon fill="#ed1c24" points="320.3,716.7 330.9,728 320.3,739.3 309.7,728"/>
<polygon fill="#ed1c24" points="327.3,732.7 337.9,744 327.3,755.3 316.7,744"/>
<polygon fill="#ed1c24" points="355,732.45 365.6,743.75 355,755.05 344.4,743.75"/>
<polygon fill="#ed1c24" points="384,724.95 394.6,736.25 384,747.55 373.4,736.25"/>
<polygon fill="#ed1c24" points="404.5,719.95 415.1,731.25 404.5,742.55 393.9,731.25"/>
<polygon fill="#ed1c24" points="464,706.2 474.6,717.5 464,728.8 453.4,717.5"/>
<polygon fill="#ed1c24" points="478.6,703.7 489.2,715 478.6,726.3 468,715"/>
<polygon fill="#ed1c24" points="512.3,699.95 522.9,711.25 512.3,722.55 501.7,711.25"/>
<polygon fill="#ed1c24" points="556,696.2 566.6,707.5 556,718.8 545.4,707.5"/>
<polygon fill="#ed1c24" points="620.3,693.2 630.9,704.5 620.3,715.8 609.7,704.5"/>
<polygon fill="#ed1c24" points="669.8,692.1 680.4,703.4 669.8,714.7 659.2,703.4"/>
<polygon fill="#ed1c24" points="753.75,696.2 764.35,707.5 753.75,718.8 743.15,707.5"/>
<polygon fill="#ed1c24" points="781.4,696.2 792,707.5 781.4,718.8 770.8,707.5"/>
<polygon fill="#ed1c24" points="796.8,694.95 807.4,706.25 796.8,717.55 786.2,706.25"/>
<polygon fill="#ed1c24" points="815.6,692.45 826.2,703.75 815.6,715.05 805,703.75"/>
<polygon fill="#ed1c24" points="837.2,687.45 847.8,698.75 837.2,710.05 826.6,698.75"/>
<polygon fill="#ed1c24" points="863.5,676.2 874.1,687.5 863.5,698.8 852.9,687.5"/>
<polygon fill="#ed1c24" points="897.5,661.2 908.1,672.5 897.5,683.8 886.9,672.5"/>
<polygon fill="#ed1c24" points="945.4,625.5 956,636.8 945.4,648.1 934.8,636.8"/>
<polygon fill="#ed1c24" points="965.2,616 975.8,627.3 965.2,638.6 954.6,627.3"/>
<polygon fill="#ed1c24" points="980.5,607.7 991.1,619 980.5,630.3 969.9,619"/>
<polygon fill="#ed1c24" points="998,591.2 1008.6,602.5 998,613.8 987.4,602.5"/>
<polygon fill="#ed1c24" points="1029.8,586.1 1040.4,597.4 1029.8,608.7 1019.2,597.4"/>
<polygon fill="#ed1c24" points="1071.6,584.95 1082.2,596.25 1071.6,607.55 1061,596.25"/>
<polygon fill="#ed1c24" points="1112.2,588.2 1122.8,599.5 1112.2,610.8 1101.6,599.5"/>
<polyline fill="none" stroke="#2f3fa6" stroke-width="3.8" stroke-linejoin="round" stroke-linecap="round" points="202.5,953 216,952.5 245.3,951.25 284.3,938.75 323.5,820 337.3,747 320.3,727.5 327.3,733 355,730 384,718.75 404.5,713.1 464,701.75 478.6,700 512.3,695 556,691.75 620.3,690.5 669.8,690 753.75,695 781.4,693.75 796.8,692.5 815.6,690.5 837.2,686.25 863.5,677.5 897.5,665 945.4,648.7 965.2,645 980.5,645.3 998,655 1029.8,682.5 1071.6,706.25 1112.2,715"/>
<polygon fill="#3b4fae" points="209.95,942.25 209.95,963.75 191.45,953"/>
<polygon fill="#3b4fae" points="223.45,941.75 223.45,963.25 204.95,952.5"/>
<polygon fill="#3b4fae" points="252.75,940.5 252.75,962 234.25,951.25"/>
<polygon fill="#3b4fae" points="291.75,928 291.75,949.5 273.25,938.75"/>
<polygon fill="#3b4fae" points="330.95,809.25 330.95,830.75 312.45,820"/>
<polygon fill="#3b4fae" points="344.75,736.25 344.75,757.75 326.25,747"/>
<polygon fill="#3b4fae" points="327.75,716.75 327.75,738.25 309.25,727.5"/>
<polygon fill="#3b4fae" points="334.75,722.25 334.75,743.75 316.25,733"/>
<polygon fill="#3b4fae" points="362.45,719.25 362.45,740.75 343.95,730"/>
<polygon fill="#3b4fae" points="391.45,708 391.45,729.5 372.95,718.75"/>
<polygon fill="#3b4fae" points="411.95,702.35 411.95,723.85 393.45,713.1"/>
<polygon fill="#3b4fae" points="471.45,691 471.45,712.5 452.95,701.75"/>
<polygon fill="#3b4fae" points="486.05,689.25 486.05,710.75 467.55,700"/>
<polygon fill="#3b4fae" points="519.75,684.25 519.75,705.75 501.25,695"/>
<polygon fill="#3b4fae" points="563.45,681 563.45,702.5 544.95,691.75"/>
<polygon fill="#3b4fae" points="627.75,679.75 627.75,701.25 609.25,690.5"/>
<polygon fill="#3b4fae" points="677.25,679.25 677.25,700.75 658.75,690"/>
<polygon fill="#3b4fae" points="761.2,684.25 761.2,705.75 742.7,695"/>
<polygon fill="#3b4fae" points="788.85,683 788.85,704.5 770.35,693.75"/>
<polygon fill="#3b4fae" points="804.25,681.75 804.25,703.25 785.75,692.5"/>
<polygon fill="#3b4fae" points="823.05,679.75 823.05,701.25 804.55,690.5"/>
<polygon fill="#3b4fae" points="844.65,675.5 844.65,697 826.15,686.25"/>
<polygon fill="#3b4fae" points="870.95,666.75 870.95,688.25 852.45,677.5"/>
<polygon fill="#3b4fae" points="904.95,654.25 904.95,675.75 886.45,665"/>
<polygon fill="#3b4fae" points="952.85,637.95 952.85,659.45 934.35,648.7"/>
<polygon fill="#3b4fae" points="972.65,634.25 972.65,655.75 954.15,645"/>
<polygon fill="#3b4fae" points="987.95,634.55 987.95,656.05 969.45,645.3"/>
<polygon fill="#3b4fae" points="1005.45,644.25 1005.45,665.75 986.95,655"/>
<polygon fill="#3b4fae" points="1037.25,671.75 1037.25,693.25 1018.75,682.5"/>
<polygon fill="#3b4fae" points="1079.05,695.5 1079.05,717 1060.55,706.25"/>
<polygon fill="#3b4fae" points="1119.65,704.25 1119.65,725.75 1101.15,715"/>
<polyline fill="none" stroke="#ec1590" stroke-width="3.8" stroke-linejoin="round" stroke-linecap="round" points="202.5,682.5 216,682.5 245.3,678.75 284.3,672.5 323.5,663.75 337.3,657.5 320.3,650 327.3,648 355,643.75 384,641.9 404.5,640 464,633 478.6,632 512.3,629.5 556,626 620.3,621 669.8,617 753.75,612 781.4,610.5 796.8,609.5 815.6,608.5 837.2,607.5 863.5,606 897.5,604.5 945.4,602.5 965.2,603.75 980.5,604.5 998,606.25 1029.8,613.75 1071.6,618 1112.2,625.5"/>
<polygon fill="#ec1590" points="195.75,672.1 195.75,692.9 215.25,682.5"/>
<polygon fill="#ec1590" points="209.25,672.1 209.25,692.9 228.75,682.5"/>
<polygon fill="#ec1590" points="238.55,668.35 238.55,689.15 258.05,678.75"/>
<polygon fill="#ec1590" points="277.55,662.1 277.55,682.9 297.05,672.5"/>
<polygon fill="#ec1590" points="316.75,653.35 316.75,674.15 336.25,663.75"/>
<polygon fill="#ec1590" points="330.55,647.1 330.55,667.9 350.05,657.5"/>
<polygon fill="#ec1590" points="313.55,639.6 313.55,660.4 333.05,650"/>
<polygon fill="#ec1590" points="320.55,637.6 320.55,658.4 340.05,648"/>
<polygon fill="#ec1590" points="348.25,633.35 348.25,654.15 367.75,643.75"/>
<polygon fill="#ec1590" points="377.25,631.5 377.25,652.3 396.75,641.9"/>
<polygon fill="#ec1590" points="397.75,629.6 397.75,650.4 417.25,640"/>
<polygon fill="#ec1590" points="457.25,622.6 457.25,643.4 476.75,633"/>
<polygon fill="#ec1590" points="471.85,621.6 471.85,642.4 491.35,632"/>
<polygon fill="#ec1590" points="505.55,619.1 505.55,639.9 525.05,629.5"/>
<polygon fill="#ec1590" points="549.25,615.6 549.25,636.4 568.75,626"/>
<polygon fill="#ec1590" points="613.55,610.6 613.55,631.4 633.05,621"/>
<polygon fill="#ec1590" points="663.05,606.6 663.05,627.4 682.55,617"/>
<polygon fill="#ec1590" points="747,601.6 747,622.4 766.5,612"/>
<polygon fill="#ec1590" points="774.65,600.1 774.65,620.9 794.15,610.5"/>
<polygon fill="#ec1590" points="790.05,599.1 790.05,619.9 809.55,609.5"/>
<polygon fill="#ec1590" points="808.85,598.1 808.85,618.9 828.35,608.5"/>
<polygon fill="#ec1590" points="830.45,597.1 830.45,617.9 849.95,607.5"/>
<polygon fill="#ec1590" points="856.75,595.6 856.75,616.4 876.25,606"/>
<polygon fill="#ec1590" points="890.75,594.1 890.75,614.9 910.25,604.5"/>
<polygon fill="#ec1590" points="938.65,592.1 938.65,612.9 958.15,602.5"/>
<polygon fill="#ec1590" points="958.45,593.35 958.45,614.15 977.95,603.75"/>
<polygon fill="#ec1590" points="973.75,594.1 973.75,614.9 993.25,604.5"/>
<polygon fill="#ec1590" points="991.25,595.85 991.25,616.65 1010.75,606.25"/>
<polygon fill="#ec1590" points="1023.05,603.35 1023.05,624.15 1042.55,613.75"/>
<polygon fill="#ec1590" points="1064.85,607.6 1064.85,628.4 1084.35,618"/>
<polygon fill="#ec1590" points="1105.45,615.1 1105.45,635.9 1124.95,625.5"/>
<polyline fill="none" stroke="#169a9c" stroke-width="3.8" stroke-linejoin="round" stroke-linecap="round" points="202.5,651.3 216,651.3 245.3,648.3 284.3,644.3 323.5,634.5 337.3,640 320.3,645 327.3,642 355,636.25 384,635 404.5,633.7 464,628.75 478.6,628 512.3,626.25 556,624.5 620.3,622.5 669.8,621 753.75,618.25 781.4,617 796.8,616.25 815.6,615.75 837.2,615 863.5,614.25 897.5,613.75 945.4,612.5 965.2,613.9 980.5,615.3 998,621.3 1029.8,630.3 1071.6,635.5 1112.2,642.5"/>
<polygon fill="#169a9c" points="202.5,641.2 193.4,646.25 193.4,656.35 202.5,661.4 211.6,656.35 211.6,646.25"/>
<polygon fill="#169a9c" points="216,641.2 206.9,646.25 206.9,656.35 216,661.4 225.1,656.35 225.1,646.25"/>
<polygon fill="#169a9c" points="245.3,638.2 236.2,643.25 236.2,653.35 245.3,658.4 254.4,653.35 254.4,643.25"/>
<polygon fill="#169a9c" points="284.3,634.2 275.2,639.25 275.2,649.35 284.3,654.4 293.4,649.35 293.4,639.25"/>
<polygon fill="#169a9c" points="323.5,624.4 314.4,629.45 314.4,639.55 323.5,644.6 332.6,639.55 332.6,629.45"/>
<polygon fill="#169a9c" points="337.3,629.9 328.2,634.95 328.2,645.05 337.3,650.1 346.4,645.05 346.4,634.95"/>
<polygon fill="#169a9c" points="320.3,634.9 311.2,639.95 311.2,650.05 320.3,655.1 329.4,650.05 329.4,639.95"/>
<polygon fill="#169a9c" points="327.3,631.9 318.2,636.95 318.2,647.05 327.3,652.1 336.4,647.05 336.4,636.95"/>
<polygon fill="#169a9c" points="355,626.15 345.9,631.2 345.9,641.3 355,646.35 364.1,641.3 364.1,631.2"/>
<polygon fill="#169a9c" points="384,624.9 374.9,629.95 374.9,640.05 384,645.1 393.1,640.05 393.1,629.95"/>
<polygon fill="#169a9c" points="404.5,623.6 395.4,628.65 395.4,638.75 404.5,643.8 413.6,638.75 413.6,628.65"/>
<polygon fill="#169a9c" points="464,618.65 454.9,623.7 454.9,633.8 464,638.85 473.1,633.8 473.1,623.7"/>
<polygon fill="#169a9c" points="478.6,617.9 469.5,622.95 469.5,633.05 478.6,638.1 487.7,633.05 487.7,622.95"/>
<polygon fill="#169a9c" points="512.3,616.15 503.2,621.2 503.2,631.3 512.3,636.35 521.4,631.3 521.4,621.2"/>
<polygon fill="#169a9c" points="556,614.4 546.9,619.45 546.9,629.55 556,634.6 565.1,629.55 565.1,619.45"/>
<polygon fill="#169a9c" points="620.3,612.4 611.2,617.45 611.2,627.55 620.3,632.6 629.4,627.55 629.4,617.45"/>
<polygon fill="#169a9c" points="669.8,610.9 660.7,615.95 660.7,626.05 669.8,631.1 678.9,626.05 678.9,615.95"/>
<polygon fill="#169a9c" points="753.75,608.15 744.65,613.2 744.65,623.3 753.75,628.35 762.85,623.3 762.85,613.2"/>
<polygon fill="#169a9c" points="781.4,606.9 772.3,611.95 772.3,622.05 781.4,627.1 790.5,622.05 790.5,611.95"/>
<polygon fill="#169a9c" points="796.8,606.15 787.7,611.2 787.7,621.3 796.8,626.35 805.9,621.3 805.9,611.2"/>
<polygon fill="#169a9c" points="815.6,605.65 806.5,610.7 806.5,620.8 815.6,625.85 824.7,620.8 824.7,610.7"/>
<polygon fill="#169a9c" points="837.2,604.9 828.1,609.95 828.1,620.05 837.2,625.1 846.3,620.05 846.3,609.95"/>
<polygon fill="#169a9c" points="863.5,604.15 854.4,609.2 854.4,619.3 863.5,624.35 872.6,619.3 872.6,609.2"/>
<polygon fill="#169a9c" points="897.5,603.65 888.4,608.7 888.4,618.8 897.5,623.85 906.6,618.8 906.6,608.7"/>
<polygon fill="#169a9c" points="945.4,602.4 936.3,607.45 936.3,617.55 945.4,622.6 954.5,617.55 954.5,607.45"/>
<polygon fill="#169a9c" points="965.2,603.8 956.1,608.85 956.1,618.95 965.2,624 974.3,618.95 974.3,608.85"/>
<polygon fill="#169a9c" points="980.5,605.2 971.4,610.25 971.4,620.35 980.5,625.4 989.6,620.35 989.6,610.25"/>
<polygon fill="#169a9c" points="998,611.2 988.9,616.25 988.9,626.35 998,631.4 1007.1,626.35 1007.1,616.25"/>
<polygon fill="#169a9c" points="1029.8,620.2 1020.7,625.25 1020.7,635.35 1029.8,640.4 1038.9,635.35 1038.9,625.25"/>
<polygon fill="#169a9c" points="1071.6,625.4 1062.5,630.45 1062.5,640.55 1071.6,645.6 1080.7,640.55 1080.7,630.45"/>
<polygon fill="#169a9c" points="1112.2,632.4 1103.1,637.45 1103.1,647.55 1112.2,652.6 1121.3,647.55 1121.3,637.45"/>
<polyline fill="none" stroke="#8c191c" stroke-width="3.8" stroke-linejoin="round" stroke-linecap="round" points="202.5,650.6 216,650.6 245.3,647.6 284.3,643.6 323.5,631.8 337.3,629.3 320.3,628.9 327.3,628.25 355,626.4 384,623.9 404.5,622.6 464,619.5 478.6,618.25 512.3,616.25 556,613.75 620.3,610.75 669.8,609 753.75,605.6 781.4,603.25 796.8,602 815.6,601.25 837.2,600.25 863.5,599 897.5,597.5 945.4,594.25 965.2,592.5 980.5,591 998,589.25 1029.8,583.25 1071.6,575.75 1112.2,557.5"/>
<polygon fill="#8c191c" points="202.5,640.3 199.68,647.02 192.42,647.62 197.93,652.38 196.27,659.48 202.5,655.7 208.73,659.48 207.07,652.38 212.58,647.62 205.32,647.02"/>
<polygon fill="#8c191c" points="216,640.3 213.18,647.02 205.92,647.62 211.43,652.38 209.77,659.48 216,655.7 222.23,659.48 220.57,652.38 226.08,647.62 218.82,647.02"/>
<polygon fill="#8c191c" points="245.3,637.3 242.48,644.02 235.22,644.62 240.73,649.38 239.07,656.48 245.3,652.7 251.53,656.48 249.87,649.38 255.38,644.62 248.12,644.02"/>
<polygon fill="#8c191c" points="284.3,633.3 281.48,640.02 274.22,640.62 279.73,645.38 278.07,652.48 284.3,648.7 290.53,652.48 288.87,645.38 294.38,640.62 287.12,640.02"/>
<polygon fill="#8c191c" points="323.5,621.5 320.68,628.22 313.42,628.82 318.93,633.58 317.27,640.68 323.5,636.9 329.73,640.68 328.07,633.58 333.58,628.82 326.32,628.22"/>
<polygon fill="#8c191c" points="337.3,619 334.48,625.72 327.22,626.32 332.73,631.08 331.07,638.18 337.3,634.4 343.53,638.18 341.87,631.08 347.38,626.32 340.12,625.72"/>
<polygon fill="#8c191c" points="320.3,618.6 317.48,625.32 310.22,625.92 315.73,630.68 314.07,637.78 320.3,634 326.53,637.78 324.87,630.68 330.38,625.92 323.12,625.32"/>
<polygon fill="#8c191c" points="327.3,617.95 324.48,624.67 317.22,625.27 322.73,630.03 321.07,637.13 327.3,633.35 333.53,637.13 331.87,630.03 337.38,625.27 330.12,624.67"/>
<polygon fill="#8c191c" points="355,616.1 352.18,622.82 344.92,623.42 350.43,628.18 348.77,635.28 355,631.5 361.23,635.28 359.57,628.18 365.08,623.42 357.82,622.82"/>
<polygon fill="#8c191c" points="384,613.6 381.18,620.32 373.92,620.92 379.43,625.68 377.77,632.78 384,629 390.23,632.78 388.57,625.68 394.08,620.92 386.82,620.32"/>
<polygon fill="#8c191c" points="404.5,612.3 401.68,619.02 394.42,619.62 399.93,624.38 398.27,631.48 404.5,627.7 410.73,631.48 409.07,624.38 414.58,619.62 407.32,619.02"/>
<polygon fill="#8c191c" points="464,609.2 461.18,615.92 453.92,616.52 459.43,621.28 457.77,628.38 464,624.6 470.23,628.38 468.57,621.28 474.08,616.52 466.82,615.92"/>
<polygon fill="#8c191c" points="478.6,607.95 475.78,614.67 468.52,615.27 474.03,620.03 472.37,627.13 478.6,623.35 484.83,627.13 483.17,620.03 488.68,615.27 481.42,614.67"/>
<polygon fill="#8c191c" points="512.3,605.95 509.48,612.67 502.22,613.27 507.73,618.03 506.07,625.13 512.3,621.35 518.53,625.13 516.87,618.03 522.38,613.27 515.12,612.67"/>
<polygon fill="#8c191c" points="556,603.45 553.18,610.17 545.92,610.77 551.43,615.53 549.77,622.63 556,618.85 562.23,622.63 560.57,615.53 566.08,610.77 558.82,610.17"/>
<polygon fill="#8c191c" points="620.3,600.45 617.48,607.17 610.22,607.77 615.73,612.53 614.07,619.63 620.3,615.85 626.53,619.63 624.87,612.53 630.38,607.77 623.12,607.17"/>
<polygon fill="#8c191c" points="669.8,598.7 666.98,605.42 659.72,606.02 665.23,610.78 663.57,617.88 669.8,614.1 676.03,617.88 674.37,610.78 679.88,606.02 672.62,605.42"/>
<polygon fill="#8c191c" points="753.75,595.3 750.93,602.02 743.67,602.62 749.18,607.38 747.52,614.48 753.75,610.7 759.98,614.48 758.32,607.38 763.83,602.62 756.57,602.02"/>
<polygon fill="#8c191c" points="781.4,592.95 778.58,599.67 771.32,600.27 776.83,605.03 775.17,612.13 781.4,608.35 787.63,612.13 785.97,605.03 791.48,600.27 784.22,599.67"/>
<polygon fill="#8c191c" points="796.8,591.7 793.98,598.42 786.72,599.02 792.23,603.78 790.57,610.88 796.8,607.1 803.03,610.88 801.37,603.78 806.88,599.02 799.62,598.42"/>
<polygon fill="#8c191c" points="815.6,590.95 812.78,597.67 805.52,598.27 811.03,603.03 809.37,610.13 815.6,606.35 821.83,610.13 820.17,603.03 825.68,598.27 818.42,597.67"/>
<polygon fill="#8c191c" points="837.2,589.95 834.38,596.67 827.12,597.27 832.63,602.03 830.97,609.13 837.2,605.35 843.43,609.13 841.77,602.03 847.28,597.27 840.02,596.67"/>
<polygon fill="#8c191c" points="863.5,588.7 860.68,595.42 853.42,596.02 858.93,600.78 857.27,607.88 863.5,604.1 869.73,607.88 868.07,600.78 873.58,596.02 866.32,595.42"/>
<polygon fill="#8c191c" points="897.5,587.2 894.68,593.92 887.42,594.52 892.93,599.28 891.27,606.38 897.5,602.6 903.73,606.38 902.07,599.28 907.58,594.52 900.32,593.92"/>
<polygon fill="#8c191c" points="945.4,583.95 942.58,590.67 935.32,591.27 940.83,596.03 939.17,603.13 945.4,599.35 951.63,603.13 949.97,596.03 955.48,591.27 948.22,590.67"/>
<polygon fill="#8c191c" points="965.2,582.2 962.38,588.92 955.12,589.52 960.63,594.28 958.97,601.38 965.2,597.6 971.43,601.38 969.77,594.28 975.28,589.52 968.02,588.92"/>
<polygon fill="#8c191c" points="980.5,580.7 977.68,587.42 970.42,588.02 975.93,592.78 974.27,599.88 980.5,596.1 986.73,599.88 985.07,592.78 990.58,588.02 983.32,587.42"/>
<polygon fill="#8c191c" points="998,578.95 995.18,585.67 987.92,586.27 993.43,591.03 991.77,598.13 998,594.35 1004.23,598.13 1002.57,591.03 1008.08,586.27 1000.82,585.67"/>
<polygon fill="#8c191c" points="1029.8,572.95 1026.98,579.67 1019.72,580.27 1025.23,585.03 1023.57,592.13 1029.8,588.35 1036.03,592.13 1034.37,585.03 1039.88,580.27 1032.62,579.67"/>
<polygon fill="#8c191c" points="1071.6,565.45 1068.78,572.17 1061.52,572.77 1067.03,577.53 1065.37,584.63 1071.6,580.85 1077.83,584.63 1076.17,577.53 1081.68,572.77 1074.42,572.17"/>
<polygon fill="#8c191c" points="1112.2,547.2 1109.38,553.92 1102.12,554.52 1107.63,559.28 1105.97,566.38 1112.2,562.6 1118.43,566.38 1116.77,559.28 1122.28,554.52 1115.02,553.92"/>
<rect x="342.6" y="543" width="5" height="418" fill="#cbced0" opacity="0.93"/>
<rect x="751.4" y="543.3" width="5" height="417.7" fill="#cbced0" opacity="0.93"/>
<line x1="717.5" y1="762.3" x2="834" y2="762.3" stroke="#ec1590" stroke-width="3.8" stroke-linecap="round"/>
<polygon fill="#ec1590" points="767.75,751.3 767.75,773.3 785.25,762.3"/>
<line x1="717.5" y1="833.2" x2="834" y2="833.2" stroke="#169a9c" stroke-width="3.8" stroke-linecap="round"/>
<polygon fill="#169a9c" points="775.7,823.1 766.6,828.15 766.6,838.25 775.7,843.3 784.8,838.25 784.8,828.15"/>
<line x1="717.5" y1="912" x2="834" y2="912" stroke="#8c191c" stroke-width="3.8" stroke-linecap="round"/>
<polygon fill="#8c191c" points="775.7,902.3 773.23,908.9 766.19,909.21 771.71,913.6 769.82,920.39 775.7,916.5 781.58,920.39 779.69,913.6 785.21,909.21 778.17,908.9"/>
<line x1="948" y1="761" x2="1065" y2="761" stroke="#0a0a0a" stroke-width="3.8" stroke-linecap="round"/>
<polygon fill="#0a0a0a" points="995.95,754.93 1016.45,754.93 1006.2,773.73"/>
<line x1="948" y1="831.8" x2="1065" y2="831.8" stroke="#ed1c24" stroke-width="3.8" stroke-linecap="round"/>
<polygon fill="#ed1c24" points="1006.2,820.05 1016.45,831.8 1006.2,843.55 995.95,831.8"/>
<line x1="948" y1="917.5" x2="1065" y2="917.5" stroke="#2f3fa6" stroke-width="3.8" stroke-linecap="round"/>
<polygon fill="#3b4fae" points="1013.25,906.25 1013.25,928.75 995.75,917.5"/>
<text transform="translate(852.5,770.6) scale(1.055,1)" font-size="41" text-anchor="start" fill="#231f20">He</text>
<text x="906" y="756.8" font-size="32" fill="#231f20">+</text>
<text transform="translate(852.5,842.4) scale(1.055,1)" font-size="41" text-anchor="start" fill="#231f20">He</text>
<text x="900" y="825.3" font-size="32" fill="#231f20">+</text>
<text x="904.5" y="850.7" font-size="29" fill="#231f20">2</text>
<text x="851" y="927" font-size="41" font-style="italic" fill="#231f20">n<tspan font-size="29" dy="8.6" dx="0.5">e</tspan></text>
<text transform="translate(1077.8,769.6) scale(1.190,1)" font-size="41" text-anchor="start" fill="#231f20">C</text>
<text transform="translate(1077.8,842) scale(1.190,1)" font-size="41" text-anchor="start" fill="#231f20">C</text>
<text x="1105.2" y="824.8" font-size="32" fill="#231f20">+</text>
<text x="1108" y="850.6" font-size="29" fill="#231f20">2</text>
<text transform="translate(1077.8,927) scale(1.190,1)" font-size="41" text-anchor="start" fill="#231f20">C</text>
<text x="1105.2" y="909" font-size="32" fill="#231f20">+</text>
<text x="1108" y="935.6" font-size="29" fill="#231f20">3</text>
<text transform="translate(675.4,550.8) scale(1.120,1)" font-size="39.5" text-anchor="middle" fill="#231f20">(б)</text>
<text transform="translate(49.9,810.4) rotate(-90)" font-size="43" fill="#231f20"><tspan x="-0.5" y="0" font-style="italic">n</tspan><tspan x="21" y="9.7" font-size="31" font-style="italic">i</tspan><tspan x="29.5" y="0" font-style="italic">,</tspan><tspan x="49.4" y="0">m</tspan><tspan x="86" y="-15.3" font-size="30">−</tspan><tspan x="100.4" y="-15.3" font-size="30">3</tspan></text>
</g>
<g id="panel-c">
<line x1="173.2" y1="1044.69" x2="173.2" y2="1465.8" stroke="#111111" stroke-width="2.4"/>
<line x1="172" y1="1464.8" x2="1184" y2="1464.8" stroke="#111111" stroke-width="2.1"/>
<line x1="173.1" y1="1456.95" x2="183.1" y2="1456.95" stroke="#111111" stroke-width="1.6"/>
<line x1="173.1" y1="1451.92" x2="183.1" y2="1451.92" stroke="#111111" stroke-width="1.6"/>
<line x1="173.1" y1="1448.12" x2="183.1" y2="1448.12" stroke="#111111" stroke-width="1.6"/>
<line x1="173.1" y1="1445.04" x2="183.1" y2="1445.04" stroke="#111111" stroke-width="1.6"/>
<line x1="173.1" y1="1442.6" x2="183.1" y2="1442.6" stroke="#111111" stroke-width="1.6"/>
<line x1="173.1" y1="1440.2" x2="183.1" y2="1440.2" stroke="#111111" stroke-width="1.9"/>
<line x1="173.1" y1="1438.38" x2="183.1" y2="1438.38" stroke="#111111" stroke-width="1.9"/>
<line x1="173.1" y1="1436.66" x2="183.1" y2="1436.66" stroke="#111111" stroke-width="1.9"/>
<line x1="173.1" y1="1434.23" x2="187.9" y2="1434.23" stroke="#111111" stroke-width="1.8"/>
<line x1="173.1" y1="1426.18" x2="183.1" y2="1426.18" stroke="#111111" stroke-width="1.6"/>
<line x1="173.1" y1="1421.15" x2="183.1" y2="1421.15" stroke="#111111" stroke-width="1.6"/>
<line x1="173.1" y1="1417.35" x2="183.1" y2="1417.35" stroke="#111111" stroke-width="1.6"/>
<line x1="173.1" y1="1414.27" x2="183.1" y2="1414.27" stroke="#111111" stroke-width="1.6"/>
<line x1="173.1" y1="1411.83" x2="183.1" y2="1411.83" stroke="#111111" stroke-width="1.6"/>
<line x1="173.1" y1="1409.43" x2="183.1" y2="1409.43" stroke="#111111" stroke-width="1.9"/>
<line x1="173.1" y1="1407.61" x2="183.1" y2="1407.61" stroke="#111111" stroke-width="1.9"/>
<line x1="173.1" y1="1405.89" x2="183.1" y2="1405.89" stroke="#111111" stroke-width="1.9"/>
<line x1="173.1" y1="1403.46" x2="187.9" y2="1403.46" stroke="#111111" stroke-width="1.8"/>
<line x1="173.1" y1="1395.41" x2="183.1" y2="1395.41" stroke="#111111" stroke-width="1.6"/>
<line x1="173.1" y1="1390.38" x2="183.1" y2="1390.38" stroke="#111111" stroke-width="1.6"/>
<line x1="173.1" y1="1386.58" x2="183.1" y2="1386.58" stroke="#111111" stroke-width="1.6"/>
<line x1="173.1" y1="1383.5" x2="183.1" y2="1383.5" stroke="#111111" stroke-width="1.6"/>
<line x1="173.1" y1="1381.06" x2="183.1" y2="1381.06" stroke="#111111" stroke-width="1.6"/>
<line x1="173.1" y1="1378.66" x2="183.1" y2="1378.66" stroke="#111111" stroke-width="1.9"/>
<line x1="173.1" y1="1376.84" x2="183.1" y2="1376.84" stroke="#111111" stroke-width="1.9"/>
<line x1="173.1" y1="1375.12" x2="183.1" y2="1375.12" stroke="#111111" stroke-width="1.9"/>
<line x1="173.1" y1="1372.69" x2="187.9" y2="1372.69" stroke="#111111" stroke-width="1.8"/>
<line x1="173.1" y1="1364.64" x2="183.1" y2="1364.64" stroke="#111111" stroke-width="1.6"/>
<line x1="173.1" y1="1359.61" x2="183.1" y2="1359.61" stroke="#111111" stroke-width="1.6"/>
<line x1="173.1" y1="1355.81" x2="183.1" y2="1355.81" stroke="#111111" stroke-width="1.6"/>
<line x1="173.1" y1="1352.73" x2="183.1" y2="1352.73" stroke="#111111" stroke-width="1.6"/>
<line x1="173.1" y1="1350.29" x2="183.1" y2="1350.29" stroke="#111111" stroke-width="1.6"/>
<line x1="173.1" y1="1347.89" x2="183.1" y2="1347.89" stroke="#111111" stroke-width="1.9"/>
<line x1="173.1" y1="1346.07" x2="183.1" y2="1346.07" stroke="#111111" stroke-width="1.9"/>
<line x1="173.1" y1="1344.35" x2="183.1" y2="1344.35" stroke="#111111" stroke-width="1.9"/>
<line x1="173.1" y1="1341.92" x2="187.9" y2="1341.92" stroke="#111111" stroke-width="1.8"/>
<line x1="173.1" y1="1333.87" x2="183.1" y2="1333.87" stroke="#111111" stroke-width="1.6"/>
<line x1="173.1" y1="1328.84" x2="183.1" y2="1328.84" stroke="#111111" stroke-width="1.6"/>
<line x1="173.1" y1="1325.04" x2="183.1" y2="1325.04" stroke="#111111" stroke-width="1.6"/>
<line x1="173.1" y1="1321.96" x2="183.1" y2="1321.96" stroke="#111111" stroke-width="1.6"/>
<line x1="173.1" y1="1319.52" x2="183.1" y2="1319.52" stroke="#111111" stroke-width="1.6"/>
<line x1="173.1" y1="1317.12" x2="183.1" y2="1317.12" stroke="#111111" stroke-width="1.9"/>
<line x1="173.1" y1="1315.3" x2="183.1" y2="1315.3" stroke="#111111" stroke-width="1.9"/>
<line x1="173.1" y1="1313.58" x2="183.1" y2="1313.58" stroke="#111111" stroke-width="1.9"/>
<line x1="173.1" y1="1311.15" x2="187.9" y2="1311.15" stroke="#111111" stroke-width="1.8"/>
<line x1="173.1" y1="1303.1" x2="183.1" y2="1303.1" stroke="#111111" stroke-width="1.6"/>
<line x1="173.1" y1="1298.07" x2="183.1" y2="1298.07" stroke="#111111" stroke-width="1.6"/>
<line x1="173.1" y1="1294.27" x2="183.1" y2="1294.27" stroke="#111111" stroke-width="1.6"/>
<line x1="173.1" y1="1291.19" x2="183.1" y2="1291.19" stroke="#111111" stroke-width="1.6"/>
<line x1="173.1" y1="1288.75" x2="183.1" y2="1288.75" stroke="#111111" stroke-width="1.6"/>
<line x1="173.1" y1="1286.35" x2="183.1" y2="1286.35" stroke="#111111" stroke-width="1.9"/>
<line x1="173.1" y1="1284.53" x2="183.1" y2="1284.53" stroke="#111111" stroke-width="1.9"/>
<line x1="173.1" y1="1282.81" x2="183.1" y2="1282.81" stroke="#111111" stroke-width="1.9"/>
<line x1="173.1" y1="1280.38" x2="187.9" y2="1280.38" stroke="#111111" stroke-width="1.8"/>
<line x1="173.1" y1="1272.33" x2="183.1" y2="1272.33" stroke="#111111" stroke-width="1.6"/>
<line x1="173.1" y1="1267.3" x2="183.1" y2="1267.3" stroke="#111111" stroke-width="1.6"/>
<line x1="173.1" y1="1263.5" x2="183.1" y2="1263.5" stroke="#111111" stroke-width="1.6"/>
<line x1="173.1" y1="1260.42" x2="183.1" y2="1260.42" stroke="#111111" stroke-width="1.6"/>
<line x1="173.1" y1="1257.98" x2="183.1" y2="1257.98" stroke="#111111" stroke-width="1.6"/>
<line x1="173.1" y1="1255.58" x2="183.1" y2="1255.58" stroke="#111111" stroke-width="1.9"/>
<line x1="173.1" y1="1253.76" x2="183.1" y2="1253.76" stroke="#111111" stroke-width="1.9"/>
<line x1="173.1" y1="1252.04" x2="183.1" y2="1252.04" stroke="#111111" stroke-width="1.9"/>
<line x1="173.1" y1="1249.61" x2="187.9" y2="1249.61" stroke="#111111" stroke-width="1.8"/>
<line x1="173.1" y1="1241.56" x2="183.1" y2="1241.56" stroke="#111111" stroke-width="1.6"/>
<line x1="173.1" y1="1236.53" x2="183.1" y2="1236.53" stroke="#111111" stroke-width="1.6"/>
<line x1="173.1" y1="1232.73" x2="183.1" y2="1232.73" stroke="#111111" stroke-width="1.6"/>
<line x1="173.1" y1="1229.65" x2="183.1" y2="1229.65" stroke="#111111" stroke-width="1.6"/>
<line x1="173.1" y1="1227.21" x2="183.1" y2="1227.21" stroke="#111111" stroke-width="1.6"/>
<line x1="173.1" y1="1224.81" x2="183.1" y2="1224.81" stroke="#111111" stroke-width="1.9"/>
<line x1="173.1" y1="1222.99" x2="183.1" y2="1222.99" stroke="#111111" stroke-width="1.9"/>
<line x1="173.1" y1="1221.27" x2="183.1" y2="1221.27" stroke="#111111" stroke-width="1.9"/>
<line x1="173.1" y1="1218.84" x2="187.9" y2="1218.84" stroke="#111111" stroke-width="1.8"/>
<line x1="173.1" y1="1210.79" x2="183.1" y2="1210.79" stroke="#111111" stroke-width="1.6"/>
<line x1="173.1" y1="1205.76" x2="183.1" y2="1205.76" stroke="#111111" stroke-width="1.6"/>
<line x1="173.1" y1="1201.96" x2="183.1" y2="1201.96" stroke="#111111" stroke-width="1.6"/>
<line x1="173.1" y1="1198.88" x2="183.1" y2="1198.88" stroke="#111111" stroke-width="1.6"/>
<line x1="173.1" y1="1196.44" x2="183.1" y2="1196.44" stroke="#111111" stroke-width="1.6"/>
<line x1="173.1" y1="1194.04" x2="183.1" y2="1194.04" stroke="#111111" stroke-width="1.9"/>
<line x1="173.1" y1="1192.22" x2="183.1" y2="1192.22" stroke="#111111" stroke-width="1.9"/>
<line x1="173.1" y1="1190.5" x2="183.1" y2="1190.5" stroke="#111111" stroke-width="1.9"/>
<line x1="173.1" y1="1188.07" x2="187.9" y2="1188.07" stroke="#111111" stroke-width="1.8"/>
<line x1="173.1" y1="1180.02" x2="183.1" y2="1180.02" stroke="#111111" stroke-width="1.6"/>
<line x1="173.1" y1="1174.99" x2="183.1" y2="1174.99" stroke="#111111" stroke-width="1.6"/>
<line x1="173.1" y1="1171.19" x2="183.1" y2="1171.19" stroke="#111111" stroke-width="1.6"/>
<line x1="173.1" y1="1168.11" x2="183.1" y2="1168.11" stroke="#111111" stroke-width="1.6"/>
<line x1="173.1" y1="1165.67" x2="183.1" y2="1165.67" stroke="#111111" stroke-width="1.6"/>
<line x1="173.1" y1="1163.27" x2="183.1" y2="1163.27" stroke="#111111" stroke-width="1.9"/>
<line x1="173.1" y1="1161.45" x2="183.1" y2="1161.45" stroke="#111111" stroke-width="1.9"/>
<line x1="173.1" y1="1159.73" x2="183.1" y2="1159.73" stroke="#111111" stroke-width="1.9"/>
<line x1="173.1" y1="1157.3" x2="187.9" y2="1157.3" stroke="#111111" stroke-width="1.8"/>
<line x1="173.1" y1="1149.25" x2="183.1" y2="1149.25" stroke="#111111" stroke-width="1.6"/>
<line x1="173.1" y1="1144.22" x2="183.1" y2="1144.22" stroke="#111111" stroke-width="1.6"/>
<line x1="173.1" y1="1140.42" x2="183.1" y2="1140.42" stroke="#111111" stroke-width="1.6"/>
<line x1="173.1" y1="1137.34" x2="183.1" y2="1137.34" stroke="#111111" stroke-width="1.6"/>
<line x1="173.1" y1="1134.9" x2="183.1" y2="1134.9" stroke="#111111" stroke-width="1.6"/>
<line x1="173.1" y1="1132.5" x2="183.1" y2="1132.5" stroke="#111111" stroke-width="1.9"/>
<line x1="173.1" y1="1130.68" x2="183.1" y2="1130.68" stroke="#111111" stroke-width="1.9"/>
<line x1="173.1" y1="1128.96" x2="183.1" y2="1128.96" stroke="#111111" stroke-width="1.9"/>
<line x1="173.1" y1="1126.53" x2="187.9" y2="1126.53" stroke="#111111" stroke-width="1.8"/>
<line x1="173.1" y1="1118.48" x2="183.1" y2="1118.48" stroke="#111111" stroke-width="1.6"/>
<line x1="173.1" y1="1113.45" x2="183.1" y2="1113.45" stroke="#111111" stroke-width="1.6"/>
<line x1="173.1" y1="1109.65" x2="183.1" y2="1109.65" stroke="#111111" stroke-width="1.6"/>
<line x1="173.1" y1="1106.57" x2="183.1" y2="1106.57" stroke="#111111" stroke-width="1.6"/>
<line x1="173.1" y1="1104.13" x2="183.1" y2="1104.13" stroke="#111111" stroke-width="1.6"/>
<line x1="173.1" y1="1101.73" x2="183.1" y2="1101.73" stroke="#111111" stroke-width="1.9"/>
<line x1="173.1" y1="1099.91" x2="183.1" y2="1099.91" stroke="#111111" stroke-width="1.9"/>
<line x1="173.1" y1="1098.19" x2="183.1" y2="1098.19" stroke="#111111" stroke-width="1.9"/>
<line x1="173.1" y1="1095.76" x2="187.9" y2="1095.76" stroke="#111111" stroke-width="1.8"/>
<line x1="173.1" y1="1087.71" x2="183.1" y2="1087.71" stroke="#111111" stroke-width="1.6"/>
<line x1="173.1" y1="1082.68" x2="183.1" y2="1082.68" stroke="#111111" stroke-width="1.6"/>
<line x1="173.1" y1="1078.88" x2="183.1" y2="1078.88" stroke="#111111" stroke-width="1.6"/>
<line x1="173.1" y1="1075.8" x2="183.1" y2="1075.8" stroke="#111111" stroke-width="1.6"/>
<line x1="173.1" y1="1073.36" x2="183.1" y2="1073.36" stroke="#111111" stroke-width="1.6"/>
<line x1="173.1" y1="1070.96" x2="183.1" y2="1070.96" stroke="#111111" stroke-width="1.9"/>
<line x1="173.1" y1="1069.14" x2="183.1" y2="1069.14" stroke="#111111" stroke-width="1.9"/>
<line x1="173.1" y1="1067.42" x2="183.1" y2="1067.42" stroke="#111111" stroke-width="1.9"/>
<line x1="173.1" y1="1064.99" x2="187.9" y2="1064.99" stroke="#111111" stroke-width="1.8"/>
<line x1="173.1" y1="1056.94" x2="183.1" y2="1056.94" stroke="#111111" stroke-width="1.6"/>
<line x1="173.1" y1="1051.91" x2="183.1" y2="1051.91" stroke="#111111" stroke-width="1.6"/>
<line x1="173.1" y1="1048.11" x2="183.1" y2="1048.11" stroke="#111111" stroke-width="1.6"/>
<line x1="173.1" y1="1045.03" x2="183.1" y2="1045.03" stroke="#111111" stroke-width="1.6"/>
<line x1="173.1" y1="1042.59" x2="183.1" y2="1042.59" stroke="#111111" stroke-width="1.6"/>
<line x1="219.44" y1="1464.8" x2="219.44" y2="1455.8" stroke="#111111" stroke-width="1.7"/>
<line x1="253.09" y1="1464.8" x2="253.09" y2="1455.8" stroke="#111111" stroke-width="1.7"/>
<line x1="280.43" y1="1464.8" x2="280.43" y2="1455.8" stroke="#111111" stroke-width="1.7"/>
<line x1="301.98" y1="1464.8" x2="301.98" y2="1455.8" stroke="#111111" stroke-width="1.7"/>
<line x1="323.26" y1="1464.8" x2="323.26" y2="1455.8" stroke="#111111" stroke-width="1.7"/>
<line x1="339.39" y1="1464.8" x2="339.39" y2="1455.8" stroke="#111111" stroke-width="1.7"/>
<line x1="354.6" y1="1464.8" x2="354.6" y2="1455.8" stroke="#111111" stroke-width="1.7"/>
<line x1="365.5" y1="1464.8" x2="365.5" y2="1450.3" stroke="#111111" stroke-width="1.7"/>
<line x1="447.41" y1="1464.8" x2="447.41" y2="1455.8" stroke="#111111" stroke-width="1.7"/>
<line x1="491.94" y1="1464.8" x2="491.94" y2="1455.8" stroke="#111111" stroke-width="1.7"/>
<line x1="525.59" y1="1464.8" x2="525.59" y2="1455.8" stroke="#111111" stroke-width="1.7"/>
<line x1="552.93" y1="1464.8" x2="552.93" y2="1455.8" stroke="#111111" stroke-width="1.7"/>
<line x1="574.48" y1="1464.8" x2="574.48" y2="1455.8" stroke="#111111" stroke-width="1.7"/>
<line x1="595.76" y1="1464.8" x2="595.76" y2="1455.8" stroke="#111111" stroke-width="1.7"/>
<line x1="611.89" y1="1464.8" x2="611.89" y2="1455.8" stroke="#111111" stroke-width="1.7"/>
<line x1="627.1" y1="1464.8" x2="627.1" y2="1455.8" stroke="#111111" stroke-width="1.7"/>
<line x1="638" y1="1464.8" x2="638" y2="1450.3" stroke="#111111" stroke-width="1.7"/>
<line x1="719.91" y1="1464.8" x2="719.91" y2="1455.8" stroke="#111111" stroke-width="1.7"/>
<line x1="764.44" y1="1464.8" x2="764.44" y2="1455.8" stroke="#111111" stroke-width="1.7"/>
<line x1="798.09" y1="1464.8" x2="798.09" y2="1455.8" stroke="#111111" stroke-width="1.7"/>
<line x1="825.43" y1="1464.8" x2="825.43" y2="1455.8" stroke="#111111" stroke-width="1.7"/>
<line x1="846.98" y1="1464.8" x2="846.98" y2="1455.8" stroke="#111111" stroke-width="1.7"/>
<line x1="868.26" y1="1464.8" x2="868.26" y2="1455.8" stroke="#111111" stroke-width="1.7"/>
<line x1="884.39" y1="1464.8" x2="884.39" y2="1455.8" stroke="#111111" stroke-width="1.7"/>
<line x1="899.6" y1="1464.8" x2="899.6" y2="1455.8" stroke="#111111" stroke-width="1.7"/>
<line x1="910.5" y1="1464.8" x2="910.5" y2="1450.3" stroke="#111111" stroke-width="1.7"/>
<line x1="992.41" y1="1464.8" x2="992.41" y2="1455.8" stroke="#111111" stroke-width="1.7"/>
<line x1="1036.94" y1="1464.8" x2="1036.94" y2="1455.8" stroke="#111111" stroke-width="1.7"/>
<line x1="1070.59" y1="1464.8" x2="1070.59" y2="1455.8" stroke="#111111" stroke-width="1.7"/>
<line x1="1097.93" y1="1464.8" x2="1097.93" y2="1455.8" stroke="#111111" stroke-width="1.7"/>
<line x1="1119.48" y1="1464.8" x2="1119.48" y2="1455.8" stroke="#111111" stroke-width="1.7"/>
<line x1="1140.76" y1="1464.8" x2="1140.76" y2="1455.8" stroke="#111111" stroke-width="1.7"/>
<line x1="1156.89" y1="1464.8" x2="1156.89" y2="1455.8" stroke="#111111" stroke-width="1.7"/>
<line x1="1172.1" y1="1464.8" x2="1172.1" y2="1455.8" stroke="#111111" stroke-width="1.7"/>
<line x1="1183" y1="1464.8" x2="1183" y2="1450.3" stroke="#111111" stroke-width="1.7"/>
<text transform="translate(157.6,1107.56) scale(0.975,1)" font-size="40" text-anchor="end" fill="#231f20">10<tspan font-size="27" dy="-14.6" dx="0.4">20</tspan></text>
<text transform="translate(157.6,1199.87) scale(0.975,1)" font-size="40" text-anchor="end" fill="#231f20">10<tspan font-size="27" dy="-14.6" dx="0.4">17</tspan></text>
<text transform="translate(157.6,1292.18) scale(0.975,1)" font-size="40" text-anchor="end" fill="#231f20">10<tspan font-size="27" dy="-14.6" dx="0.4">14</tspan></text>
<text transform="translate(157.6,1384.49) scale(0.975,1)" font-size="40" text-anchor="end" fill="#231f20">10<tspan font-size="27" dy="-14.6" dx="0.4">11</tspan></text>
<text transform="translate(157.6,1476.8) scale(0.975,1)" font-size="40" text-anchor="end" fill="#231f20">10<tspan font-size="27" dy="-14.6" dx="0.4">8</tspan></text>
<polyline fill="none" stroke="#0a0a0a" stroke-width="3.8" stroke-linejoin="round" stroke-linecap="round" points="202.5,1377 216,1377 245.3,1378 284.3,1380 323.5,1383.75 337.3,1386 320.3,1362.5 327.3,1325 355,1300.75 384,1286.25 404.5,1278.75 464,1261 478.6,1257.25 512.3,1250 556,1241.75 620.3,1230.5 669.8,1223 753.75,1208 781.4,1199.4 796.8,1193.25 815.6,1185 837.2,1174.5 863.5,1160.75 897.5,1143.75 945.4,1121.25 965.2,1110.5 980.5,1104.25 998,1094.5 1029.8,1083.75 1071.6,1073.25 1112.2,1055.75"/>
<rect x="194.4" y="1368.9" width="16.2" height="16.2" fill="#0a0a0a"/>
<rect x="207.9" y="1368.9" width="16.2" height="16.2" fill="#0a0a0a"/>
<rect x="237.2" y="1369.9" width="16.2" height="16.2" fill="#0a0a0a"/>
<rect x="276.2" y="1371.9" width="16.2" height="16.2" fill="#0a0a0a"/>
<rect x="315.4" y="1375.65" width="16.2" height="16.2" fill="#0a0a0a"/>
<rect x="329.2" y="1377.9" width="16.2" height="16.2" fill="#0a0a0a"/>
<rect x="312.2" y="1354.4" width="16.2" height="16.2" fill="#0a0a0a"/>
<rect x="319.2" y="1316.9" width="16.2" height="16.2" fill="#0a0a0a"/>
<rect x="346.9" y="1292.65" width="16.2" height="16.2" fill="#0a0a0a"/>
<rect x="375.9" y="1278.15" width="16.2" height="16.2" fill="#0a0a0a"/>
<rect x="396.4" y="1270.65" width="16.2" height="16.2" fill="#0a0a0a"/>
<rect x="455.9" y="1252.9" width="16.2" height="16.2" fill="#0a0a0a"/>
<rect x="470.5" y="1249.15" width="16.2" height="16.2" fill="#0a0a0a"/>
<rect x="504.2" y="1241.9" width="16.2" height="16.2" fill="#0a0a0a"/>
<rect x="547.9" y="1233.65" width="16.2" height="16.2" fill="#0a0a0a"/>
<rect x="612.2" y="1222.4" width="16.2" height="16.2" fill="#0a0a0a"/>
<rect x="661.7" y="1214.9" width="16.2" height="16.2" fill="#0a0a0a"/>
<rect x="745.65" y="1199.9" width="16.2" height="16.2" fill="#0a0a0a"/>
<rect x="773.3" y="1191.3" width="16.2" height="16.2" fill="#0a0a0a"/>
<rect x="788.7" y="1185.15" width="16.2" height="16.2" fill="#0a0a0a"/>
<rect x="807.5" y="1176.9" width="16.2" height="16.2" fill="#0a0a0a"/>
<rect x="829.1" y="1166.4" width="16.2" height="16.2" fill="#0a0a0a"/>
<rect x="855.4" y="1152.65" width="16.2" height="16.2" fill="#0a0a0a"/>
<rect x="889.4" y="1135.65" width="16.2" height="16.2" fill="#0a0a0a"/>
<rect x="937.3" y="1113.15" width="16.2" height="16.2" fill="#0a0a0a"/>
<rect x="957.1" y="1102.4" width="16.2" height="16.2" fill="#0a0a0a"/>
<rect x="972.4" y="1096.15" width="16.2" height="16.2" fill="#0a0a0a"/>
<rect x="989.9" y="1086.4" width="16.2" height="16.2" fill="#0a0a0a"/>
<rect x="1021.7" y="1075.65" width="16.2" height="16.2" fill="#0a0a0a"/>
<rect x="1063.5" y="1065.15" width="16.2" height="16.2" fill="#0a0a0a"/>
<rect x="1104.1" y="1047.65" width="16.2" height="16.2" fill="#0a0a0a"/>
<polyline fill="none" stroke="#ed1c24" stroke-width="3.8" stroke-linejoin="round" stroke-linecap="round" points="202.5,1423 216,1423 245.3,1423.6 284.3,1424.3 323.5,1425.5 337.3,1427 320.3,1422 327.3,1414.2 355,1387.5 384,1368.75 404.5,1360 464,1336.25 478.6,1332.75 512.3,1322.5 556,1311.75 620.3,1298.25 669.8,1288.75 753.75,1269.25 781.4,1257.5 796.8,1248 815.6,1236.25 837.2,1222 863.5,1202.5 897.5,1178.75 945.4,1144.5 965.2,1127 980.5,1117.5 998,1107.5 1029.8,1095.5 1071.6,1086.25 1112.2,1073"/>
<circle cx="202.5" cy="1423" r="9.4" fill="#ed1c24"/>
<circle cx="216" cy="1423" r="9.4" fill="#ed1c24"/>
<circle cx="245.3" cy="1423.6" r="9.4" fill="#ed1c24"/>
<circle cx="284.3" cy="1424.3" r="9.4" fill="#ed1c24"/>
<circle cx="323.5" cy="1425.5" r="9.4" fill="#ed1c24"/>
<circle cx="337.3" cy="1427" r="9.4" fill="#ed1c24"/>
<circle cx="320.3" cy="1422" r="9.4" fill="#ed1c24"/>
<circle cx="327.3" cy="1414.2" r="9.4" fill="#ed1c24"/>
<circle cx="355" cy="1387.5" r="9.4" fill="#ed1c24"/>
<circle cx="384" cy="1368.75" r="9.4" fill="#ed1c24"/>
<circle cx="404.5" cy="1360" r="9.4" fill="#ed1c24"/>
<circle cx="464" cy="1336.25" r="9.4" fill="#ed1c24"/>
<circle cx="478.6" cy="1332.75" r="9.4" fill="#ed1c24"/>
<circle cx="512.3" cy="1322.5" r="9.4" fill="#ed1c24"/>
<circle cx="556" cy="1311.75" r="9.4" fill="#ed1c24"/>
<circle cx="620.3" cy="1298.25" r="9.4" fill="#ed1c24"/>
<circle cx="669.8" cy="1288.75" r="9.4" fill="#ed1c24"/>
<circle cx="753.75" cy="1269.25" r="9.4" fill="#ed1c24"/>
<circle cx="781.4" cy="1257.5" r="9.4" fill="#ed1c24"/>
<circle cx="796.8" cy="1248" r="9.4" fill="#ed1c24"/>
<circle cx="815.6" cy="1236.25" r="9.4" fill="#ed1c24"/>
<circle cx="837.2" cy="1222" r="9.4" fill="#ed1c24"/>
<circle cx="863.5" cy="1202.5" r="9.4" fill="#ed1c24"/>
<circle cx="897.5" cy="1178.75" r="9.4" fill="#ed1c24"/>
<circle cx="945.4" cy="1144.5" r="9.4" fill="#ed1c24"/>
<circle cx="965.2" cy="1127" r="9.4" fill="#ed1c24"/>
<circle cx="980.5" cy="1117.5" r="9.4" fill="#ed1c24"/>
<circle cx="998" cy="1107.5" r="9.4" fill="#ed1c24"/>
<circle cx="1029.8" cy="1095.5" r="9.4" fill="#ed1c24"/>
<circle cx="1071.6" cy="1086.25" r="9.4" fill="#ed1c24"/>
<circle cx="1112.2" cy="1073" r="9.4" fill="#ed1c24"/>
<polyline fill="none" stroke="#2f3fa6" stroke-width="3.8" stroke-linejoin="round" stroke-linecap="round" points="202.5,1425.8 216,1425.8 245.3,1427 284.3,1427.5 323.5,1428.3 337.3,1429 320.3,1423 327.3,1395.5 355,1366.75 384,1349.25 404.5,1340.5 464,1319.25 478.6,1315.5 512.3,1308.5 556,1298.5 620.3,1286 669.8,1278 753.75,1259.25 781.4,1244.25 796.8,1235.9 815.6,1224.25 837.2,1209.25 863.5,1191.75 897.5,1169.75 945.4,1143 965.2,1134.25 980.5,1129.25 998,1124.25 1029.8,1121.25 1071.6,1119.25 1112.2,1113.5"/>
<polygon fill="#3b4fae" points="191.75,1432.13 213.25,1432.13 202.5,1413.13"/>
<polygon fill="#3b4fae" points="205.25,1432.13 226.75,1432.13 216,1413.13"/>
<polygon fill="#3b4fae" points="234.55,1433.33 256.05,1433.33 245.3,1414.33"/>
<polygon fill="#3b4fae" points="273.55,1433.83 295.05,1433.83 284.3,1414.83"/>
<polygon fill="#3b4fae" points="312.75,1434.63 334.25,1434.63 323.5,1415.63"/>
<polygon fill="#3b4fae" points="326.55,1435.33 348.05,1435.33 337.3,1416.33"/>
<polygon fill="#3b4fae" points="309.55,1429.33 331.05,1429.33 320.3,1410.33"/>
<polygon fill="#3b4fae" points="316.55,1401.83 338.05,1401.83 327.3,1382.83"/>
<polygon fill="#3b4fae" points="344.25,1373.08 365.75,1373.08 355,1354.08"/>
<polygon fill="#3b4fae" points="373.25,1355.58 394.75,1355.58 384,1336.58"/>
<polygon fill="#3b4fae" points="393.75,1346.83 415.25,1346.83 404.5,1327.83"/>
<polygon fill="#3b4fae" points="453.25,1325.58 474.75,1325.58 464,1306.58"/>
<polygon fill="#3b4fae" points="467.85,1321.83 489.35,1321.83 478.6,1302.83"/>
<polygon fill="#3b4fae" points="501.55,1314.83 523.05,1314.83 512.3,1295.83"/>
<polygon fill="#3b4fae" points="545.25,1304.83 566.75,1304.83 556,1285.83"/>
<polygon fill="#3b4fae" points="609.55,1292.33 631.05,1292.33 620.3,1273.33"/>
<polygon fill="#3b4fae" points="659.05,1284.33 680.55,1284.33 669.8,1265.33"/>
<polygon fill="#3b4fae" points="743,1265.58 764.5,1265.58 753.75,1246.58"/>
<polygon fill="#3b4fae" points="770.65,1250.58 792.15,1250.58 781.4,1231.58"/>
<polygon fill="#3b4fae" points="786.05,1242.23 807.55,1242.23 796.8,1223.23"/>
<polygon fill="#3b4fae" points="804.85,1230.58 826.35,1230.58 815.6,1211.58"/>
<polygon fill="#3b4fae" points="826.45,1215.58 847.95,1215.58 837.2,1196.58"/>
<polygon fill="#3b4fae" points="852.75,1198.08 874.25,1198.08 863.5,1179.08"/>
<polygon fill="#3b4fae" points="886.75,1176.08 908.25,1176.08 897.5,1157.08"/>
<polygon fill="#3b4fae" points="934.65,1149.33 956.15,1149.33 945.4,1130.33"/>
<polygon fill="#3b4fae" points="954.45,1140.58 975.95,1140.58 965.2,1121.58"/>
<polygon fill="#3b4fae" points="969.75,1135.58 991.25,1135.58 980.5,1116.58"/>
<polygon fill="#3b4fae" points="987.25,1130.58 1008.75,1130.58 998,1111.58"/>
<polygon fill="#3b4fae" points="1019.05,1127.58 1040.55,1127.58 1029.8,1108.58"/>
<polygon fill="#3b4fae" points="1060.85,1125.58 1082.35,1125.58 1071.6,1106.58"/>
<polygon fill="#3b4fae" points="1101.45,1119.83 1122.95,1119.83 1112.2,1100.83"/>
<rect x="341.2" y="1045" width="5" height="417.5" fill="#cbced0" opacity="0.93"/>
<rect x="751.4" y="1045.3" width="5" height="417" fill="#cbced0" opacity="0.93"/>
<line x1="961.5" y1="1275.5" x2="1079" y2="1275.5" stroke="#0a0a0a" stroke-width="3.8" stroke-linecap="round"/>
<rect x="1012" y="1267.5" width="16" height="16" fill="#0a0a0a"/>
<line x1="961.5" y1="1338.8" x2="1079" y2="1338.8" stroke="#ed1c24" stroke-width="3.8" stroke-linecap="round"/>
<circle cx="1020" cy="1338.8" r="9.3" fill="#ed1c24"/>
<line x1="961.5" y1="1417" x2="1079" y2="1417" stroke="#2f3fa6" stroke-width="3.8" stroke-linecap="round"/>
<polygon fill="#3b4fae" points="1009,1424.4 1031,1424.4 1020,1404.9"/>
<text transform="translate(1092.8,1288.3) scale(1.190,1)" font-size="41" text-anchor="start" fill="#231f20">C</text>
<text transform="translate(1092.8,1351.3) scale(1.190,1)" font-size="41" text-anchor="start" fill="#231f20">C</text>
<text x="1123.8" y="1360" font-size="29" fill="#231f20">2</text>
<text transform="translate(1092.8,1430) scale(1.190,1)" font-size="41" text-anchor="start" fill="#231f20">C</text>
<text x="1123.8" y="1441.3" font-size="29" fill="#231f20">3</text>
<text transform="translate(675.4,1050.8) scale(1.120,1)" font-size="39.5" text-anchor="middle" fill="#231f20">(в)</text>
<text transform="translate(49.9,1320.8) rotate(-90)" font-size="43" fill="#231f20"><tspan x="-0.5" y="0" font-style="italic">n</tspan><tspan x="23" y="9.7" font-size="31" font-style="italic">C</tspan><tspan x="41.3" y="14.5" font-size="22" font-style="italic">i</tspan><tspan x="48.4" y="0" font-style="italic">,</tspan><tspan x="69.5" y="0">m</tspan><tspan x="104.8" y="-15.3" font-size="30">−</tspan><tspan x="119.2" y="-15.3" font-size="30">3</tspan></text>
<text transform="translate(363.4,1511.1) scale(0.955,1)" font-size="40" text-anchor="middle" fill="#231f20">10<tspan font-size="27" dy="-15" dx="0.6">4</tspan></text>
<text transform="translate(636.7,1511.1) scale(0.955,1)" font-size="40" text-anchor="middle" fill="#231f20">10<tspan font-size="27" dy="-15" dx="0.6">5</tspan></text>
<text transform="translate(909.6,1511.1) scale(0.955,1)" font-size="40" text-anchor="middle" fill="#231f20">10<tspan font-size="27" dy="-15" dx="0.6">6</tspan></text>
<text transform="translate(1182.3,1511.1) scale(0.955,1)" font-size="40" text-anchor="middle" fill="#231f20">10<tspan font-size="27" dy="-15" dx="0.6">7</tspan></text>
<text x="612.4" y="1574.9" font-size="43" text-anchor="start" fill="#231f20" font-style="italic">j</text>
<text x="626" y="1574.9" font-size="43" text-anchor="start" fill="#231f20">,</text>
<text transform="translate(645.8,1574.9) scale(1.068,1)" font-size="43" text-anchor="start" fill="#231f20">A/m</text>
<text x="726.9" y="1559.8" font-size="28.5" text-anchor="start" fill="#231f20">2</text>
</g>
</svg></body></html>
